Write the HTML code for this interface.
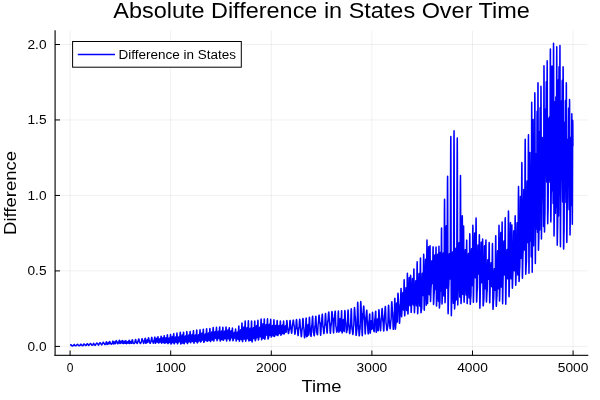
<!DOCTYPE html>
<html><head><meta charset="utf-8">
<style>
html,body{margin:0;padding:0;background:#fff;}
svg{display:block;will-change:transform;}
text{font-family:"Liberation Sans", sans-serif;fill:#000;}
</style></head>
<body>
<svg width="600" height="400" viewBox="0 0 600 400">
<rect x="0" y="0" width="600" height="400" fill="#fff"/>
<!-- grid -->
<g stroke="#000" stroke-opacity="0.06" stroke-width="1">
<line x1="70.1" y1="30.5" x2="70.1" y2="355.5"/>
<line x1="170.7" y1="30.5" x2="170.7" y2="355.5"/>
<line x1="271.3" y1="30.5" x2="271.3" y2="355.5"/>
<line x1="371.9" y1="30.5" x2="371.9" y2="355.5"/>
<line x1="472.5" y1="30.5" x2="472.5" y2="355.5"/>
<line x1="573.1" y1="30.5" x2="573.1" y2="355.5"/>
<line x1="55" y1="346.4" x2="588" y2="346.4"/>
<line x1="55" y1="270.9" x2="588" y2="270.9"/>
<line x1="55" y1="195.45" x2="588" y2="195.45"/>
<line x1="55" y1="119.95" x2="588" y2="119.95"/>
<line x1="55" y1="44.5" x2="588" y2="44.5"/>
</g>
<!-- data -->
<polyline fill="none" stroke="#0000ff" stroke-width="1.5" stroke-linejoin="round" points="70.08,345.26 70.18,345.23 70.28,345.21 70.38,345.15 70.48,345.07 70.58,344.96 70.68,344.86 70.78,344.78 70.88,344.72 70.99,344.70 71.09,344.74 71.19,344.86 71.29,345.03 71.39,345.23 71.49,345.42 71.59,345.59 71.69,345.70 71.79,345.74 71.89,345.75 71.99,345.78 72.09,345.82 72.19,345.87 72.29,345.92 72.39,345.97 72.49,346.00 72.59,346.01 72.69,345.99 72.80,345.92 72.90,345.83 73.00,345.71 73.10,345.60 73.20,345.50 73.30,345.43 73.40,345.40 73.50,345.37 73.60,345.28 73.70,345.14 73.80,344.96 73.90,344.79 74.00,344.64 74.10,344.54 74.20,344.50 74.30,344.53 74.40,344.65 74.51,344.83 74.61,345.04 74.71,345.25 74.81,345.44 74.91,345.57 75.01,345.62 75.11,345.63 75.21,345.66 75.31,345.69 75.41,345.74 75.51,345.79 75.61,345.83 75.71,345.86 75.81,345.87 75.91,345.85 76.01,345.77 76.11,345.65 76.21,345.51 76.32,345.36 76.42,345.23 76.52,345.13 76.62,345.09 76.72,345.07 76.82,345.00 76.92,344.88 77.02,344.73 77.12,344.58 77.22,344.44 77.32,344.35 77.42,344.30 77.52,344.32 77.62,344.40 77.72,344.53 77.82,344.69 77.92,344.85 78.03,344.99 78.13,345.10 78.23,345.14 78.33,345.16 78.43,345.22 78.53,345.32 78.63,345.44 78.73,345.57 78.83,345.68 78.93,345.76 79.03,345.80 79.13,345.80 79.23,345.77 79.33,345.73 79.43,345.67 79.53,345.61 79.63,345.56 79.73,345.53 79.84,345.51 79.94,345.48 80.04,345.36 80.14,345.16 80.24,344.91 80.34,344.64 80.44,344.41 80.54,344.23 80.64,344.15 80.74,344.15 80.84,344.20 80.94,344.29 81.04,344.40 81.14,344.51 81.24,344.61 81.34,344.69 81.44,344.73 81.54,344.74 81.65,344.82 81.75,344.96 81.85,345.14 81.95,345.33 82.05,345.49 82.15,345.62 82.25,345.68 82.35,345.69 82.45,345.67 82.55,345.64 82.65,345.60 82.75,345.55 82.85,345.51 82.95,345.48 83.05,345.47 83.15,345.45 83.25,345.32 83.36,345.11 83.46,344.83 83.56,344.53 83.66,344.26 83.76,344.05 83.86,343.94 83.96,343.94 84.06,343.98 84.16,344.05 84.26,344.14 84.36,344.25 84.46,344.34 84.56,344.41 84.66,344.45 84.76,344.47 84.86,344.55 84.96,344.70 85.06,344.90 85.17,345.11 85.27,345.30 85.37,345.45 85.47,345.54 85.57,345.54 85.67,345.52 85.77,345.47 85.87,345.41 85.97,345.35 86.07,345.29 86.17,345.24 86.27,345.21 86.37,345.20 86.47,345.09 86.57,344.90 86.67,344.64 86.77,344.35 86.88,344.09 86.98,343.88 87.08,343.76 87.18,343.75 87.28,343.79 87.38,343.87 87.48,343.98 87.58,344.09 87.68,344.20 87.78,344.29 87.88,344.34 87.98,344.35 88.08,344.43 88.18,344.58 88.28,344.78 88.38,345.00 88.48,345.21 88.58,345.37 88.69,345.47 88.79,345.48 88.89,345.41 88.99,345.27 89.09,345.09 89.19,344.88 89.29,344.69 89.39,344.53 89.49,344.44 89.59,344.42 89.69,344.36 89.79,344.25 89.89,344.09 89.99,343.92 90.09,343.75 90.19,343.62 90.29,343.54 90.40,343.53 90.50,343.57 90.60,343.66 90.70,343.78 90.80,343.91 90.90,344.04 91.00,344.14 91.10,344.21 91.20,344.22 91.30,344.29 91.40,344.42 91.50,344.61 91.60,344.82 91.70,345.03 91.80,345.19 91.90,345.29 92.00,345.31 92.10,345.29 92.21,345.23 92.31,345.15 92.41,345.06 92.51,344.97 92.61,344.90 92.71,344.86 92.81,344.85 92.91,344.77 93.01,344.58 93.11,344.32 93.21,344.03 93.31,343.75 93.41,343.52 93.51,343.38 93.61,343.34 93.71,343.42 93.81,343.61 93.92,343.87 94.02,344.17 94.12,344.46 94.22,344.70 94.32,344.85 94.42,344.89 94.52,344.91 94.62,344.96 94.72,345.02 94.82,345.10 94.92,345.18 95.02,345.24 95.12,345.28 95.22,345.29 95.32,345.23 95.42,345.07 95.52,344.85 95.62,344.59 95.73,344.34 95.83,344.13 95.93,343.99 96.03,343.95 96.13,343.91 96.23,343.81 96.33,343.67 96.43,343.50 96.53,343.33 96.63,343.19 96.73,343.10 96.83,343.07 96.93,343.10 97.03,343.17 97.13,343.26 97.23,343.38 97.33,343.49 97.44,343.59 97.54,343.65 97.64,343.67 97.74,343.73 97.84,343.89 97.94,344.13 98.04,344.41 98.14,344.69 98.24,344.92 98.34,345.08 98.44,345.13 98.54,345.09 98.64,344.96 98.74,344.78 98.84,344.56 98.94,344.35 99.04,344.16 99.14,344.04 99.25,344.00 99.35,343.95 99.45,343.80 99.55,343.59 99.65,343.33 99.75,343.08 99.85,342.86 99.95,342.71 100.05,342.65 100.15,342.68 100.25,342.78 100.35,342.93 100.45,343.11 100.55,343.29 100.65,343.44 100.75,343.55 100.85,343.59 100.95,343.63 101.06,343.76 101.16,343.97 101.26,344.22 101.36,344.47 101.46,344.69 101.56,344.84 101.66,344.90 101.76,344.86 101.86,344.74 101.96,344.56 102.06,344.33 102.16,344.11 102.26,343.91 102.36,343.77 102.46,343.71 102.56,343.67 102.66,343.52 102.77,343.28 102.87,343.00 102.97,342.71 103.07,342.45 103.17,342.27 103.27,342.20 103.37,342.23 103.47,342.35 103.57,342.54 103.67,342.77 103.77,343.01 103.87,343.22 103.97,343.37 104.07,343.44 104.17,343.47 104.27,343.58 104.37,343.76 104.47,343.97 104.58,344.20 104.68,344.40 104.78,344.54 104.88,344.60 104.98,344.58 105.08,344.49 105.18,344.33 105.28,344.14 105.38,343.94 105.48,343.76 105.58,343.63 105.68,343.58 105.78,343.54 105.88,343.37 105.98,343.11 106.08,342.78 106.18,342.43 106.29,342.12 106.39,341.90 106.49,341.79 106.59,341.93 106.69,342.53 106.79,343.38 106.89,344.12 106.99,344.45 107.09,344.43 107.19,344.36 107.29,344.26 107.39,344.14 107.49,344.04 107.59,343.97 107.69,343.94 107.79,343.86 107.89,343.65 107.99,343.36 108.10,343.05 108.20,342.78 108.30,342.61 108.40,342.57 108.50,342.68 108.60,342.92 108.70,343.24 108.80,343.57 108.90,343.84 109.00,344.00 109.10,344.00 109.20,343.76 109.30,343.31 109.40,342.73 109.50,342.16 109.60,341.71 109.70,341.47 109.81,341.47 109.91,341.63 110.01,341.90 110.11,342.25 110.21,342.62 110.31,342.95 110.41,343.21 110.51,343.34 110.61,343.37 110.71,343.44 110.81,343.56 110.91,343.72 111.01,343.90 111.11,344.06 111.21,344.18 111.31,344.24 111.41,344.24 111.51,344.18 111.62,344.06 111.72,343.91 111.82,343.74 111.92,343.59 112.02,343.48 112.12,343.41 112.22,343.38 112.32,343.21 112.42,342.88 112.52,342.45 112.62,341.99 112.72,341.56 112.82,341.23 112.92,341.05 113.02,341.10 113.12,341.66 113.22,342.58 113.33,343.46 113.43,343.96 113.53,343.99 113.63,343.97 113.73,343.92 113.83,343.86 113.93,343.81 114.03,343.77 114.13,343.76 114.23,343.68 114.33,343.42 114.43,343.01 114.53,342.55 114.63,342.12 114.73,341.83 114.83,341.73 114.93,341.83 115.03,342.11 115.14,342.51 115.24,342.95 115.34,343.34 115.44,343.59 115.54,343.65 115.64,343.44 115.74,342.96 115.84,342.30 115.94,341.61 116.04,341.04 116.14,340.69 116.24,340.63 116.34,340.69 116.44,340.82 116.54,341.00 116.64,341.20 116.74,341.38 116.85,341.53 116.95,341.62 117.05,341.64 117.15,341.78 117.25,342.05 117.35,342.43 117.45,342.85 117.55,343.25 117.65,343.57 117.75,343.76 117.85,343.80 117.95,343.71 118.05,343.51 118.15,343.24 118.25,342.94 118.35,342.65 118.45,342.42 118.55,342.28 118.66,342.24 118.76,342.12 118.86,341.86 118.96,341.49 119.06,341.08 119.16,340.69 119.26,340.37 119.36,340.17 119.46,340.15 119.56,340.65 119.66,341.65 119.76,342.73 119.86,343.44 119.96,343.56 120.06,343.51 120.16,343.43 120.26,343.32 120.37,343.21 120.47,343.13 120.57,343.08 120.67,343.04 120.77,342.83 120.87,342.47 120.97,342.03 121.07,341.61 121.17,341.29 121.27,341.14 121.37,341.19 121.47,341.42 121.57,341.78 121.67,342.20 121.77,342.59 121.87,342.86 121.97,342.97 122.07,342.86 122.18,342.51 122.28,342.01 122.38,341.45 122.48,340.96 122.58,340.62 122.68,340.53 122.78,340.91 122.88,341.77 122.98,342.76 123.08,343.46 123.18,343.61 123.28,343.58 123.38,343.52 123.48,343.43 123.58,343.34 123.68,343.27 123.78,343.23 123.88,343.20 123.99,343.00 124.09,342.63 124.19,342.17 124.29,341.72 124.39,341.37 124.49,341.20 124.59,341.23 124.69,341.47 124.79,341.87 124.89,342.35 124.99,342.80 125.09,343.13 125.19,343.28 125.29,343.19 125.39,342.85 125.49,342.32 125.59,341.72 125.70,341.16 125.80,340.78 125.90,340.64 126.00,340.95 126.10,341.75 126.20,342.72 126.30,343.46 126.40,343.67 126.50,343.64 126.60,343.58 126.70,343.48 126.80,343.39 126.90,343.31 127.00,343.26 127.10,343.24 127.20,343.09 127.30,342.81 127.40,342.45 127.51,342.09 127.61,341.80 127.71,341.64 127.81,341.64 127.91,341.80 128.01,342.07 128.11,342.41 128.21,342.75 128.31,343.00 128.41,343.12 128.51,343.06 128.61,342.72 128.71,342.16 128.81,341.51 128.91,340.91 129.01,340.46 129.11,340.28 129.22,340.54 129.32,341.37 129.42,342.43 129.52,343.29 129.62,343.59 129.72,343.56 129.82,343.47 129.92,343.35 130.02,343.22 130.12,343.11 130.22,343.04 130.32,343.01 130.42,342.88 130.52,342.58 130.62,342.18 130.72,341.76 130.82,341.42 130.92,341.22 131.03,341.20 131.13,341.41 131.23,341.79 131.33,342.27 131.43,342.75 131.53,343.13 131.63,343.34 131.73,343.29 131.83,342.91 131.93,342.24 132.03,341.44 132.13,340.67 132.23,340.09 132.33,339.82 132.43,339.87 132.53,340.16 132.63,340.64 132.74,341.22 132.84,341.83 132.94,342.37 133.04,342.76 133.14,342.94 133.24,342.96 133.34,343.02 133.44,343.12 133.54,343.23 133.64,343.36 133.74,343.47 133.84,343.55 133.94,343.59 134.04,343.58 134.14,343.51 134.24,343.40 134.34,343.26 134.44,343.11 134.55,342.98 134.65,342.88 134.75,342.84 134.85,342.78 134.95,342.49 135.05,342.00 135.15,341.38 135.25,340.73 135.35,340.14 135.45,339.70 135.55,339.49 135.65,339.51 135.75,339.74 135.85,340.14 135.95,340.64 136.05,341.17 136.15,341.65 136.26,342.01 136.36,342.19 136.46,342.22 136.56,342.33 136.66,342.53 136.76,342.77 136.86,343.03 136.96,343.27 137.06,343.45 137.16,343.54 137.26,343.52 137.36,343.31 137.46,342.95 137.56,342.48 137.66,341.98 137.76,341.52 137.86,341.17 137.96,340.99 138.07,340.95 138.17,340.79 138.27,340.52 138.37,340.17 138.47,339.79 138.57,339.44 138.67,339.17 138.77,339.03 138.87,339.04 138.97,339.28 139.07,339.71 139.17,340.27 139.27,340.88 139.37,341.44 139.47,341.87 139.57,342.10 139.67,342.14 139.78,342.24 139.88,342.43 139.98,342.68 140.08,342.95 140.18,343.20 140.28,343.39 140.38,343.50 140.48,343.50 140.58,343.42 140.68,343.26 140.78,343.05 140.88,342.83 140.98,342.62 141.08,342.45 141.18,342.36 141.28,342.32 141.38,342.07 141.48,341.58 141.59,340.93 141.69,340.21 141.79,339.54 141.89,339.02 141.99,338.72 142.09,338.68 142.19,338.82 142.29,339.09 142.39,339.45 142.49,339.84 142.59,340.21 142.69,340.51 142.79,340.68 142.89,340.72 142.99,340.90 143.09,341.25 143.19,341.73 143.29,342.26 143.40,342.76 143.50,343.16 143.60,343.39 143.70,343.42 143.80,343.23 143.90,342.84 144.00,342.32 144.10,341.73 144.20,341.17 144.30,340.73 144.40,340.46 144.50,340.40 144.60,340.26 144.70,339.98 144.80,339.59 144.90,339.16 145.00,338.75 145.11,338.42 145.21,338.22 145.31,338.22 145.41,339.02 145.51,340.53 145.61,342.13 145.71,343.17 145.81,343.32 145.91,343.26 146.01,343.15 146.11,343.02 146.21,342.89 146.31,342.79 146.41,342.74 146.51,342.67 146.61,342.34 146.71,341.79 146.81,341.13 146.92,340.50 147.02,340.03 147.12,339.83 147.22,339.91 147.32,340.24 147.42,340.76 147.52,341.35 147.62,341.89 147.72,342.27 147.82,342.41 147.92,342.18 148.02,341.52 148.12,340.56 148.22,339.52 148.32,338.59 148.42,337.99 148.52,337.82 148.63,337.94 148.73,338.24 148.83,338.66 148.93,339.14 149.03,339.62 149.13,340.01 149.23,340.26 149.33,340.33 149.43,340.48 149.53,340.82 149.63,341.32 149.73,341.89 149.83,342.46 149.93,342.93 150.03,343.23 150.13,343.32 150.23,343.26 150.33,343.10 150.44,342.87 150.54,342.60 150.64,342.33 150.74,342.11 150.84,341.96 150.94,341.92 151.04,341.72 151.14,341.21 151.24,340.46 151.34,339.59 151.44,338.72 151.54,337.99 151.64,337.51 151.74,337.35 151.84,337.51 151.94,337.91 152.04,338.51 152.15,339.20 152.25,339.88 152.35,340.43 152.45,340.77 152.55,340.85 152.65,340.99 152.75,341.30 152.85,341.73 152.95,342.20 153.05,342.64 153.15,342.99 153.25,343.18 153.35,343.18 153.45,342.93 153.55,342.47 153.65,341.87 153.75,341.22 153.85,340.63 153.96,340.20 154.06,339.99 154.16,339.93 154.26,339.67 154.36,339.23 154.46,338.69 154.56,338.12 154.66,337.63 154.76,337.29 154.86,337.16 154.96,337.70 155.06,339.35 155.16,341.37 155.26,342.90 155.36,343.30 155.46,343.23 155.56,343.07 155.67,342.87 155.77,342.66 155.87,342.50 155.97,342.41 156.07,342.32 156.17,341.84 156.27,341.03 156.37,340.07 156.47,339.19 156.57,338.56 156.67,338.33 156.77,338.53 156.87,339.10 156.97,339.89 157.07,340.75 157.17,341.48 157.27,341.91 157.37,341.95 157.48,341.44 157.58,340.46 157.68,339.24 157.78,338.04 157.88,337.12 157.98,336.70 158.08,337.09 158.18,338.66 158.28,340.74 158.38,342.43 158.48,342.99 158.58,342.97 158.68,342.93 158.78,342.87 158.88,342.80 158.98,342.74 159.08,342.71 159.19,342.66 159.29,342.25 159.39,341.51 159.49,340.61 159.59,339.74 159.69,339.10 159.79,338.83 159.89,338.96 159.99,339.41 160.09,340.09 160.19,340.85 160.29,341.51 160.39,341.93 160.49,342.02 160.59,341.54 160.69,340.51 160.79,339.18 160.89,337.82 161.00,336.75 161.10,336.19 161.20,336.46 161.30,338.07 161.40,340.40 161.50,342.42 161.60,343.25 161.70,343.20 161.80,343.02 161.90,342.77 162.00,342.50 162.10,342.27 162.20,342.13 162.30,342.08 162.40,341.68 162.50,340.91 162.60,339.92 162.70,338.94 162.81,338.18 162.91,337.82 163.01,337.94 163.11,338.58 163.21,339.58 163.31,340.73 163.41,341.77 163.51,342.48 163.61,342.69 163.71,342.21 163.81,341.05 163.91,339.46 164.01,337.80 164.11,336.43 164.21,335.66 164.31,335.76 164.41,337.34 164.52,339.82 164.62,342.12 164.72,343.25 164.82,343.26 164.92,343.18 165.02,343.07 165.12,342.95 165.22,342.84 165.32,342.76 165.42,342.73 165.52,342.35 165.62,341.51 165.72,340.39 165.82,339.24 165.92,338.32 166.02,337.83 166.12,337.88 166.22,338.42 166.33,339.34 166.43,340.43 166.53,341.45 166.63,342.18 166.73,342.45 166.83,342.05 166.93,340.89 167.03,339.22 167.13,337.42 167.23,335.89 167.33,334.95 167.43,334.90 167.53,336.48 167.63,339.25 167.73,341.99 167.83,343.52 167.93,343.59 168.04,343.49 168.14,343.32 168.24,343.13 168.34,342.95 168.44,342.83 168.54,342.79 168.64,342.48 168.74,341.71 168.84,340.64 168.94,339.51 169.04,338.57 169.14,338.03 169.24,338.00 169.34,338.46 169.44,339.31 169.54,340.36 169.64,341.38 169.74,342.14 169.85,342.47 169.95,342.16 170.05,341.05 170.15,339.36 170.25,337.47 170.35,335.80 170.45,334.73 170.55,334.50 170.65,335.89 170.75,338.66 170.85,341.67 170.95,343.68 171.05,344.01 171.15,343.86 171.25,343.56 171.35,343.19 171.45,342.82 171.56,342.52 171.66,342.37 171.76,342.24 171.86,341.59 171.96,340.48 172.06,339.14 172.16,337.86 172.26,336.90 172.36,336.46 172.46,336.65 172.56,337.46 172.66,338.71 172.76,340.15 172.86,341.48 172.96,342.41 173.06,342.76 173.16,342.30 173.26,340.99 173.37,339.08 173.47,336.98 173.57,335.14 173.67,333.92 173.77,333.62 173.87,335.00 173.97,337.91 174.07,341.16 174.17,343.42 174.27,343.86 174.37,343.68 174.47,343.33 174.57,342.88 174.67,342.43 174.77,342.06 174.87,341.86 174.97,341.76 175.08,341.25 175.18,340.33 175.28,339.22 175.38,338.13 175.48,337.29 175.58,336.89 175.68,337.01 175.78,337.67 175.88,338.73 175.98,339.97 176.08,341.13 176.18,341.97 176.28,342.31 176.38,341.93 176.48,340.66 176.58,338.76 176.68,336.62 176.78,334.71 176.89,333.40 176.99,332.98 177.09,334.20 177.19,337.07 177.29,340.47 177.39,343.04 177.49,343.81 177.59,343.72 177.69,343.50 177.79,343.21 177.89,342.89 177.99,342.62 178.09,342.44 178.19,342.38 178.29,342.00 178.39,341.15 178.49,339.99 178.60,338.76 178.70,337.71 178.80,337.04 178.90,336.90 179.00,337.25 179.10,338.02 179.20,339.06 179.30,340.14 179.40,341.06 179.50,341.63 179.60,341.73 179.70,340.99 179.80,339.46 179.90,337.43 180.00,335.31 180.10,333.53 180.20,332.45 180.30,332.34 180.41,334.19 180.51,337.59 180.61,341.20 180.71,343.60 180.81,344.01 180.91,343.94 181.01,343.79 181.11,343.60 181.21,343.41 181.31,343.25 181.41,343.16 181.51,343.06 181.61,342.30 181.71,340.88 181.81,339.08 181.91,337.27 182.01,335.81 182.11,334.99 182.22,334.98 182.32,335.77 182.42,337.21 182.52,339.02 182.62,340.82 182.72,342.26 182.82,343.05 182.92,342.99 183.02,341.89 183.12,339.92 183.22,337.48 183.32,335.07 183.42,333.16 183.52,332.14 183.62,332.41 183.72,334.73 183.82,338.30 183.93,341.73 184.03,343.64 184.13,343.74 184.23,343.48 184.33,343.05 184.43,342.53 184.53,342.03 184.63,341.65 184.73,341.47 184.83,341.32 184.93,340.68 185.03,339.65 185.13,338.41 185.23,337.23 185.33,336.34 185.43,335.91 185.53,336.06 185.63,336.79 185.74,337.97 185.84,339.35 185.94,340.66 186.04,341.64 186.14,342.09 186.24,341.80 186.34,340.53 186.44,338.52 186.54,336.18 186.64,333.97 186.74,332.35 186.84,331.62 186.94,332.38 187.04,335.15 187.14,338.88 187.24,342.08 187.34,343.50 187.45,343.46 187.55,343.31 187.65,343.07 187.75,342.81 187.85,342.57 187.95,342.39 188.05,342.33 188.15,342.01 188.25,341.03 188.35,339.58 188.45,337.95 188.55,336.47 188.65,335.43 188.75,335.05 188.85,335.36 188.95,336.27 189.05,337.58 189.15,339.05 189.26,340.38 189.36,341.29 189.46,341.61 189.56,341.09 189.66,339.66 189.76,337.61 189.86,335.34 189.96,333.32 190.06,331.94 190.16,331.49 190.26,332.70 190.36,335.65 190.46,339.17 190.56,341.86 190.66,342.69 190.76,342.57 190.86,342.30 190.97,341.92 191.07,341.52 191.17,341.17 191.27,340.94 191.37,340.87 191.47,340.45 191.57,339.48 191.67,338.16 191.77,336.76 191.87,335.56 191.97,334.79 192.07,334.61 192.17,335.11 192.27,336.20 192.37,337.67 192.47,339.23 192.57,340.55 192.67,341.39 192.78,341.54 192.88,340.72 192.98,338.97 193.08,336.64 193.18,334.20 193.28,332.14 193.38,330.87 193.48,330.71 193.58,332.64 193.68,336.24 193.78,340.10 193.88,342.68 193.98,343.15 194.08,342.97 194.18,342.61 194.28,342.16 194.38,341.69 194.49,341.31 194.59,341.09 194.69,341.00 194.79,340.44 194.89,339.38 194.99,338.04 195.09,336.68 195.19,335.58 195.29,334.96 195.39,334.94 195.49,335.56 195.59,336.72 195.69,338.16 195.79,339.62 195.89,340.79 195.99,341.43 196.09,341.37 196.19,340.24 196.30,338.21 196.40,335.69 196.50,333.17 196.60,331.18 196.70,330.09 196.80,330.35 196.90,332.88 197.00,336.81 197.10,340.61 197.20,342.77 197.30,342.93 197.40,342.81 197.50,342.60 197.60,342.35 197.70,342.10 197.80,341.92 197.90,341.82 198.01,341.66 198.11,340.86 198.21,339.55 198.31,337.99 198.41,336.48 198.51,335.34 198.61,334.79 198.71,334.91 198.81,335.60 198.91,336.72 199.01,338.05 199.11,339.31 199.21,340.26 199.31,340.70 199.41,340.42 199.51,339.11 199.61,337.03 199.71,334.59 199.82,332.28 199.92,330.57 200.02,329.79 200.12,330.53 200.22,333.35 200.32,337.18 200.42,340.50 200.52,342.01 200.62,342.00 200.72,341.90 200.82,341.75 200.92,341.59 201.02,341.43 201.12,341.32 201.22,341.28 201.32,340.94 201.42,339.84 201.52,338.21 201.63,336.38 201.73,334.70 201.83,333.52 201.93,333.07 202.03,333.38 202.13,334.32 202.23,335.70 202.33,337.25 202.43,338.65 202.53,339.62 202.63,339.97 202.73,339.44 202.83,337.93 202.93,335.75 203.03,333.33 203.13,331.16 203.23,329.67 203.34,329.16 203.44,330.54 203.54,333.99 203.64,338.13 203.74,341.33 203.84,342.35 203.94,342.27 204.04,342.08 204.14,341.81 204.24,341.51 204.34,341.26 204.44,341.09 204.54,341.04 204.64,340.57 204.74,339.49 204.84,338.00 204.94,336.41 205.04,335.03 205.15,334.15 205.25,333.93 205.35,334.37 205.45,335.35 205.55,336.68 205.65,338.09 205.75,339.30 205.85,340.06 205.95,340.22 206.05,339.37 206.15,337.53 206.25,335.08 206.35,332.49 206.45,330.30 206.55,328.94 206.65,328.73 206.75,330.63 206.86,334.24 206.96,338.14 207.06,340.79 207.16,341.31 207.26,341.28 207.36,341.23 207.46,341.16 207.56,341.09 207.66,341.03 207.76,341.00 207.86,340.93 207.96,340.21 208.06,338.82 208.16,337.06 208.26,335.27 208.36,333.81 208.46,332.97 208.56,332.92 208.67,333.61 208.77,334.91 208.87,336.54 208.97,338.19 209.07,339.53 209.17,340.27 209.27,340.23 209.37,339.08 209.47,336.98 209.57,334.35 209.67,331.72 209.77,329.62 209.87,328.47 209.97,328.70 210.07,331.22 210.17,335.22 210.27,339.11 210.38,341.36 210.48,341.54 210.58,341.38 210.68,341.11 210.78,340.79 210.88,340.48 210.98,340.24 211.08,340.12 211.18,339.93 211.28,339.02 211.38,337.50 211.48,335.68 211.58,333.93 211.68,332.58 211.78,331.92 211.88,332.08 211.98,333.01 212.08,334.53 212.19,336.34 212.29,338.08 212.39,339.39 212.49,340.01 212.59,339.71 212.69,338.22 212.79,335.84 212.89,333.03 212.99,330.37 213.09,328.38 213.19,327.46 213.29,328.23 213.39,331.32 213.49,335.55 213.59,339.26 213.69,340.97 213.79,340.90 213.90,340.57 214.00,340.06 214.10,339.48 214.20,338.94 214.30,338.55 214.40,338.39 214.50,338.11 214.60,337.20 214.70,335.83 214.80,334.27 214.90,332.85 215.00,331.84 215.10,331.45 215.20,331.75 215.30,332.68 215.40,334.06 215.50,335.61 215.60,337.02 215.71,338.01 215.81,338.37 215.91,337.85 216.01,336.31 216.11,334.08 216.21,331.59 216.31,329.35 216.41,327.80 216.51,327.25 216.61,328.71 216.71,332.39 216.81,336.76 216.91,339.96 217.01,340.75 217.11,340.54 217.21,340.09 217.31,339.51 217.42,338.91 217.52,338.42 217.62,338.15 217.72,338.02 217.82,337.29 217.92,336.01 218.02,334.44 218.12,332.93 218.22,331.79 218.32,331.28 218.42,331.51 218.52,332.48 218.62,333.98 218.72,335.69 218.82,337.24 218.92,338.31 219.02,338.66 219.12,337.96 219.23,336.13 219.33,333.58 219.43,330.83 219.53,328.49 219.63,327.06 219.73,326.92 219.83,329.31 219.93,333.64 220.03,338.08 220.13,340.76 220.23,341.01 220.33,340.80 220.43,340.43 220.53,339.98 220.63,339.56 220.73,339.24 220.83,339.10 220.94,338.80 221.04,337.72 221.14,336.08 221.24,334.23 221.34,332.56 221.44,331.43 221.54,331.09 221.64,331.65 221.74,333.02 221.84,334.92 221.94,336.94 222.04,338.64 222.14,339.66 222.24,339.76 222.34,338.61 222.44,336.38 222.54,333.54 222.64,330.70 222.75,328.47 222.85,327.32 222.95,327.78 223.05,330.66 223.15,334.84 223.25,338.56 223.35,340.25 223.45,340.21 223.55,340.02 223.65,339.72 223.75,339.39 223.85,339.10 223.95,338.91 224.05,338.84 224.15,338.31 224.25,337.07 224.35,335.38 224.45,333.60 224.56,332.12 224.66,331.24 224.76,331.16 224.86,331.88 224.96,333.24 225.06,334.95 225.16,336.65 225.26,337.96 225.36,338.62 225.46,338.38 225.56,336.97 225.66,334.67 225.76,331.98 225.86,329.47 225.96,327.67 226.06,326.98 226.16,328.29 226.27,332.01 226.37,336.57 226.47,340.05 226.57,341.04 226.67,340.84 226.77,340.40 226.87,339.80 226.97,339.18 227.07,338.67 227.17,338.38 227.27,338.24 227.37,337.41 227.47,335.90 227.57,334.02 227.67,332.17 227.77,330.75 227.87,330.07 227.97,330.28 228.08,331.38 228.18,333.13 228.28,335.16 228.38,337.04 228.48,338.36 228.58,338.85 228.68,338.26 228.78,336.60 228.88,334.21 228.98,331.60 229.08,329.34 229.18,327.91 229.28,327.66 229.38,329.70 229.48,333.64 229.58,337.81 229.68,340.45 229.79,340.79 229.89,340.64 229.99,340.37 230.09,340.03 230.19,339.71 230.29,339.46 230.39,339.35 230.49,339.07 230.59,337.95 230.69,336.20 230.79,334.20 230.89,332.36 230.99,331.08 231.09,330.65 231.19,331.06 231.29,332.15 231.39,333.69 231.49,335.36 231.60,336.79 231.70,337.68 231.80,337.83 231.90,336.99 232.00,335.27 232.10,333.04 232.20,330.77 232.30,328.95 232.40,327.97 232.50,328.31 232.60,331.00 232.70,335.09 232.80,338.84 232.90,340.69 233.00,340.67 233.10,340.43 233.20,340.04 233.31,339.61 233.41,339.21 233.51,338.95 233.61,338.86 233.71,338.46 233.81,337.45 233.91,336.04 234.01,334.53 234.11,333.26 234.21,332.48 234.31,332.36 234.41,332.86 234.51,333.85 234.61,335.12 234.71,336.39 234.81,337.40 234.91,337.93 235.01,337.80 235.12,336.79 235.22,335.07 235.32,333.03 235.42,331.09 235.52,329.67 235.62,329.07 235.72,330.03 235.82,333.07 235.92,336.93 236.02,339.99 236.12,340.97 236.22,340.82 236.32,340.44 236.42,339.92 236.52,339.38 236.62,338.92 236.72,338.65 236.83,338.55 236.93,337.94 237.03,336.76 237.13,335.27 237.23,333.78 237.33,332.62 237.43,332.03 237.53,332.15 237.63,333.01 237.73,334.42 237.83,336.08 237.93,337.64 238.03,338.77 238.13,339.22 238.23,338.63 238.33,336.76 238.43,334.01 238.53,330.96 238.64,328.27 238.74,326.51 238.84,326.09 238.94,328.23 239.04,332.65 239.14,337.49 239.24,340.70 239.34,341.21 239.44,340.99 239.54,340.57 239.64,340.05 239.74,339.54 239.84,339.14 239.94,338.95 240.04,338.70 240.14,337.59 240.24,335.79 240.35,333.70 240.45,331.75 240.55,330.37 240.65,329.85 240.75,330.32 240.85,331.72 240.95,333.75 241.05,335.98 241.15,337.92 241.25,339.17 241.35,339.44 241.45,338.15 241.55,335.36 241.65,331.67 241.75,327.85 241.85,324.74 241.95,322.98 242.05,323.24 242.16,326.98 242.26,332.92 242.36,338.57 242.46,341.53 242.56,341.59 242.66,341.22 242.76,340.62 242.86,339.94 242.96,339.31 243.06,338.87 243.16,338.71 243.26,338.09 243.36,336.35 243.46,333.88 243.56,331.20 243.66,328.88 243.76,327.42 243.86,327.13 243.97,328.12 244.07,330.18 244.17,332.88 244.27,335.64 244.37,337.88 244.47,339.10 244.57,338.96 244.67,337.01 244.77,333.60 244.87,329.45 244.97,325.46 245.07,322.47 245.17,321.12 245.27,322.46 245.37,327.41 245.47,333.93 245.57,339.29 245.68,341.22 245.78,341.05 245.88,340.61 245.98,340.00 246.08,339.33 246.18,338.77 246.28,338.42 246.38,338.29 246.48,337.38 246.58,335.53 246.68,333.15 246.78,330.74 246.88,328.82 246.98,327.79 247.08,327.89 247.18,329.11 247.28,331.20 247.38,333.71 247.49,336.10 247.59,337.87 247.69,338.64 247.79,337.97 247.89,335.55 247.99,331.88 248.09,327.75 248.19,324.04 248.29,321.55 248.39,320.82 248.49,323.38 248.59,329.11 248.69,335.58 248.79,340.08 248.89,340.97 248.99,340.92 249.09,340.82 249.20,340.70 249.30,340.57 249.40,340.47 249.50,340.42 249.60,340.16 249.70,338.76 249.80,336.41 249.90,333.62 250.00,330.99 250.10,329.07 250.20,328.28 250.30,328.78 250.40,330.46 250.50,332.96 250.60,335.74 250.70,338.22 250.80,339.86 250.90,340.30 251.01,338.94 251.11,335.79 251.21,331.52 251.31,327.04 251.41,323.31 251.51,321.12 251.61,321.17 251.71,325.11 251.81,331.70 251.91,338.16 252.01,341.79 252.11,341.96 252.21,341.55 252.31,340.86 252.41,340.05 252.51,339.30 252.61,338.76 252.72,338.55 252.82,338.05 252.92,336.51 253.02,334.26 253.12,331.78 253.22,329.59 253.32,328.17 253.42,327.82 253.52,328.62 253.62,330.40 253.72,332.79 253.82,335.26 253.92,337.30 254.02,338.47 254.12,338.43 254.22,336.66 254.32,333.43 254.42,329.42 254.53,325.49 254.63,322.48 254.73,321.04 254.83,322.09 254.93,326.75 255.03,333.14 255.13,338.58 255.23,340.77 255.33,340.69 255.43,340.44 255.53,340.08 255.63,339.69 255.73,339.36 255.83,339.14 255.93,339.05 256.03,337.98 256.13,335.69 256.24,332.68 256.34,329.57 256.44,327.05 256.54,325.63 256.64,325.62 256.74,326.89 256.84,329.15 256.94,331.92 257.04,334.61 257.14,336.64 257.24,337.57 257.34,337.05 257.44,334.81 257.54,331.30 257.64,327.28 257.74,323.61 257.84,321.07 257.94,320.21 258.05,322.45 258.15,327.92 258.25,334.33 258.35,338.98 258.45,340.06 258.55,339.80 258.65,339.26 258.75,338.56 258.85,337.85 258.95,337.27 259.05,336.96 259.15,336.76 259.25,335.71 259.35,333.88 259.45,331.66 259.55,329.53 259.65,327.94 259.76,327.23 259.86,327.56 259.96,328.84 260.06,330.80 260.16,333.03 260.26,335.04 260.36,336.42 260.46,336.85 260.56,335.73 260.66,332.92 260.76,329.01 260.86,324.85 260.96,321.32 261.06,319.17 261.16,319.02 261.26,322.65 261.36,329.06 261.46,335.57 261.57,339.43 261.67,339.78 261.77,339.56 261.87,339.19 261.97,338.75 262.07,338.32 262.17,338.01 262.27,337.88 262.37,337.32 262.47,335.40 262.57,332.50 262.67,329.24 262.77,326.33 262.87,324.38 262.97,323.81 263.07,324.77 263.17,327.09 263.27,330.26 263.38,333.61 263.48,336.42 263.58,338.09 263.68,338.22 263.78,336.40 263.88,332.90 263.98,328.49 264.08,324.09 264.18,320.66 264.28,318.91 264.38,319.73 264.48,324.31 264.58,330.88 264.68,336.66 264.78,339.22 264.88,339.09 264.98,338.59 265.09,337.85 265.19,337.03 265.29,336.30 265.39,335.82 265.49,335.68 265.59,334.89 265.69,333.08 265.79,330.64 265.89,328.09 265.99,325.97 266.09,324.74 266.19,324.65 266.29,325.67 266.39,327.56 266.49,329.93 266.59,332.26 266.69,334.06 266.79,334.94 266.90,334.57 267.00,332.60 267.10,329.41 267.20,325.70 267.30,322.25 267.40,319.80 267.50,318.87 267.60,320.80 267.70,326.09 267.80,332.56 267.90,337.54 268.00,339.04 268.10,338.92 268.20,338.66 268.30,338.30 268.40,337.92 268.50,337.60 268.61,337.41 268.71,337.28 268.81,336.13 268.91,333.85 269.01,330.91 269.11,327.94 269.21,325.56 269.31,324.25 269.41,324.27 269.51,325.45 269.61,327.50 269.71,330.01 269.81,332.45 269.91,334.30 270.01,335.19 270.11,334.78 270.21,332.82 270.31,329.69 270.42,326.05 270.52,322.66 270.62,320.22 270.72,319.25 270.82,320.81 270.92,325.39 271.02,331.12 271.12,335.63 271.22,337.09 271.32,336.94 271.42,336.59 271.52,336.09 271.62,335.57 271.72,335.12 271.82,334.84 271.92,334.74 272.02,333.95 272.13,332.35 272.23,330.27 272.33,328.14 272.43,326.42 272.53,325.45 272.63,325.46 272.73,326.55 272.83,328.51 272.93,330.93 273.03,333.30 273.13,335.13 273.23,336.04 273.33,335.69 273.43,333.76 273.53,330.61 273.63,326.90 273.73,323.41 273.83,320.87 273.94,319.81 274.04,321.12 274.14,325.31 274.24,330.66 274.34,334.97 274.44,336.46 274.54,336.36 274.64,336.09 274.74,335.72 274.84,335.33 274.94,334.98 275.04,334.77 275.14,334.68 275.24,333.94 275.34,332.36 275.44,330.29 275.54,328.14 275.65,326.38 275.75,325.37 275.85,325.33 275.95,326.28 276.05,328.05 276.15,330.26 276.25,332.45 276.35,334.16 276.45,335.03 276.55,334.79 276.65,333.12 276.75,330.34 276.85,327.05 276.95,323.91 277.05,321.60 277.15,320.59 277.25,321.64 277.35,325.32 277.46,330.12 277.56,334.07 277.66,335.55 277.76,335.49 277.86,335.33 277.96,335.10 278.06,334.85 278.16,334.64 278.26,334.50 278.36,334.44 278.46,333.77 278.56,332.29 278.66,330.32 278.76,328.26 278.86,326.55 278.96,325.54 279.06,325.45 279.17,326.21 279.27,327.67 279.37,329.52 279.47,331.36 279.57,332.82 279.67,333.58 279.77,333.42 279.87,332.02 279.97,329.63 280.07,326.77 280.17,324.02 280.27,321.96 280.37,321.02 280.47,321.91 280.57,325.32 280.67,329.87 280.77,333.70 280.87,335.22 280.98,335.13 281.08,334.87 281.18,334.49 281.28,334.08 281.38,333.71 281.48,333.48 281.58,333.40 281.68,332.82 281.78,331.49 281.88,329.70 281.98,327.81 282.08,326.22 282.18,325.27 282.28,325.15 282.38,325.92 282.48,327.41 282.58,329.33 282.68,331.26 282.79,332.80 282.89,333.64 282.99,333.53 283.09,332.17 283.19,329.80 283.29,326.91 283.39,324.12 283.49,322.00 283.59,321.00 283.69,321.71 283.79,324.75 283.89,328.92 283.99,332.49 284.09,334.00 284.19,333.93 284.29,333.68 284.39,333.31 284.50,332.91 284.60,332.55 284.70,332.31 284.80,332.24 284.90,331.81 285.00,330.80 285.10,329.40 285.20,327.92 285.30,326.66 285.40,325.89 285.50,325.76 285.60,326.31 285.70,327.43 285.80,328.88 285.90,330.35 286.00,331.55 286.10,332.21 286.20,332.13 286.31,330.93 286.41,328.78 286.51,326.14 286.61,323.56 286.71,321.57 286.81,320.60 286.91,320.68 287.01,321.34 287.11,322.44 287.21,323.82 287.31,325.26 287.41,326.55 287.51,327.50 287.61,327.95 287.71,328.08 287.81,328.56 287.91,329.38 288.02,330.40 288.12,331.47 288.22,332.43 288.32,333.14 288.42,333.48 288.52,333.44 288.62,333.15 288.72,332.65 288.82,332.03 288.92,331.37 289.02,330.78 289.12,330.35 289.22,330.14 289.32,329.96 289.42,329.12 289.52,327.69 289.62,325.89 289.72,323.99 289.83,322.28 289.93,321.02 290.03,320.40 290.13,320.49 290.23,321.18 290.33,322.37 290.43,323.87 290.53,325.46 290.63,326.89 290.73,327.95 290.83,328.48 290.93,328.59 291.03,328.98 291.13,329.66 291.23,330.51 291.33,331.42 291.43,332.23 291.54,332.84 291.64,333.14 291.74,333.04 291.84,332.36 291.94,331.19 292.04,329.69 292.14,328.11 292.24,326.68 292.34,325.61 292.44,325.08 292.54,324.96 292.64,324.55 292.74,323.83 292.84,322.92 292.94,321.96 293.04,321.08 293.14,320.43 293.24,320.10 293.35,320.15 293.45,320.61 293.55,321.42 293.65,322.44 293.75,323.53 293.85,324.53 293.95,325.27 294.05,325.64 294.15,325.80 294.25,326.50 294.35,327.72 294.45,329.29 294.55,330.96 294.65,332.48 294.75,333.61 294.85,334.20 294.95,334.18 295.06,333.71 295.16,332.89 295.26,331.83 295.36,330.71 295.46,329.68 295.56,328.91 295.66,328.51 295.76,328.35 295.86,327.63 295.96,326.35 296.06,324.71 296.16,322.95 296.26,321.34 296.36,320.13 296.46,319.50 296.56,319.55 296.66,320.31 296.76,321.67 296.87,323.42 296.97,325.30 297.07,327.02 297.17,328.31 297.27,328.99 297.37,329.14 297.47,329.65 297.57,330.55 297.67,331.72 297.77,332.98 297.87,334.13 297.97,335.01 298.07,335.47 298.17,335.43 298.27,334.79 298.37,333.65 298.47,332.17 298.58,330.57 298.68,329.11 298.78,328.00 298.88,327.41 298.98,327.26 299.08,326.63 299.18,325.51 299.28,324.04 299.38,322.47 299.48,321.02 299.58,319.92 299.68,319.33 299.78,319.36 299.88,320.10 299.98,321.46 300.08,323.22 300.18,325.12 300.28,326.87 300.39,328.21 300.49,328.93 300.59,329.10 300.69,329.68 300.79,330.75 300.89,332.15 300.99,333.67 301.09,335.06 301.19,336.13 301.29,336.71 301.39,336.71 301.49,336.14 301.59,335.09 301.69,333.72 301.79,332.23 301.89,330.86 301.99,329.80 302.09,329.23 302.20,329.06 302.30,328.26 302.40,326.78 302.50,324.84 302.60,322.74 302.70,320.79 302.80,319.30 302.90,318.48 303.00,318.45 303.10,319.12 303.20,320.38 303.30,322.03 303.40,323.83 303.50,325.50 303.60,326.79 303.70,327.49 303.80,327.68 303.91,328.42 304.01,329.80 304.11,331.63 304.21,333.62 304.31,335.46 304.41,336.89 304.51,337.68 304.61,337.77 304.71,337.47 304.81,336.90 304.91,336.14 305.01,335.32 305.11,334.56 305.21,333.96 305.31,333.63 305.41,333.46 305.51,332.35 305.61,330.22 305.72,327.41 305.82,324.33 305.92,321.46 306.02,319.24 306.12,317.99 306.22,318.17 306.32,321.64 306.42,327.40 306.52,333.09 306.62,336.35 306.72,336.62 306.82,336.58 306.92,336.51 307.02,336.42 307.12,336.34 307.22,336.28 307.32,336.25 307.43,335.84 307.53,334.30 307.63,331.95 307.73,329.27 307.83,326.82 307.93,325.12 308.03,324.51 308.13,325.07 308.23,326.61 308.33,328.80 308.43,331.20 308.53,333.29 308.63,334.64 308.73,334.96 308.83,333.66 308.93,330.77 309.03,326.90 309.13,322.85 309.24,319.47 309.34,317.46 309.44,317.19 309.54,318.04 309.64,319.74 309.74,322.01 309.84,324.52 309.94,326.87 310.04,328.73 310.14,329.79 310.24,330.02 310.34,330.44 310.44,331.29 310.54,332.42 310.64,333.67 310.74,334.85 310.84,335.78 310.95,336.32 311.05,336.36 311.15,335.64 311.25,334.21 311.35,332.28 311.45,330.14 311.55,328.11 311.65,326.52 311.75,325.59 311.85,325.37 311.95,324.77 312.05,323.57 312.15,321.94 312.25,320.14 312.35,318.43 312.45,317.07 312.55,316.28 312.65,316.21 312.76,317.24 312.86,319.35 312.96,322.20 313.06,325.38 313.16,328.38 313.26,330.77 313.36,332.17 313.46,332.46 313.56,332.68 313.66,333.12 313.76,333.72 313.86,334.39 313.96,335.03 314.06,335.54 314.16,335.84 314.26,335.85 314.36,335.19 314.47,333.83 314.57,331.97 314.67,329.90 314.77,327.93 314.87,326.36 314.97,325.43 315.07,325.20 315.17,324.65 315.27,323.49 315.37,321.91 315.47,320.15 315.57,318.47 315.67,317.13 315.77,316.33 315.87,316.22 315.97,317.21 316.07,319.28 316.17,322.12 316.28,325.30 316.38,328.34 316.48,330.77 316.58,332.23 316.68,332.55 316.78,332.68 316.88,332.97 316.98,333.36 317.08,333.80 317.18,334.22 317.28,334.55 317.38,334.76 317.48,334.77 317.58,334.10 317.68,332.69 317.78,330.74 317.88,328.55 317.99,326.45 318.09,324.76 318.19,323.74 318.29,323.49 318.39,323.00 318.49,321.96 318.59,320.51 318.69,318.88 318.79,317.32 318.89,316.06 318.99,315.30 319.09,315.14 319.19,315.56 319.29,316.47 319.39,317.74 319.49,319.17 319.59,320.54 319.69,321.65 319.80,322.33 319.90,322.51 320.00,323.23 320.10,324.81 320.20,327.01 320.30,329.49 320.40,331.88 320.50,333.81 320.60,335.00 320.70,335.26 320.80,334.57 320.90,333.05 321.00,330.93 321.10,328.52 321.20,326.20 321.30,324.32 321.40,323.16 321.50,322.86 321.61,322.39 321.71,321.32 321.81,319.84 321.91,318.15 322.01,316.52 322.11,315.20 322.21,314.38 322.31,314.20 322.41,314.91 322.51,316.52 322.61,318.78 322.71,321.34 322.81,323.82 322.91,325.85 323.01,327.11 323.11,327.44 323.21,327.77 323.32,328.52 323.42,329.57 323.52,330.77 323.62,331.93 323.72,332.89 323.82,333.48 323.92,333.62 324.02,333.20 324.12,332.22 324.22,330.84 324.32,329.26 324.42,327.73 324.52,326.48 324.62,325.70 324.72,325.47 324.82,324.86 324.92,323.43 325.02,321.41 325.13,319.10 325.23,316.86 325.33,315.01 325.43,313.85 325.53,313.55 325.63,314.16 325.73,315.58 325.83,317.61 325.93,319.92 326.03,322.18 326.13,324.04 326.23,325.21 326.33,325.54 326.43,325.92 326.53,326.82 326.63,328.09 326.73,329.56 326.84,330.99 326.94,332.17 327.04,332.92 327.14,333.12 327.24,332.50 327.34,331.02 327.44,328.89 327.54,326.46 327.64,324.07 327.74,322.10 327.84,320.85 327.94,320.48 328.04,320.08 328.14,319.09 328.24,317.68 328.34,316.05 328.44,314.46 328.54,313.14 328.65,312.30 328.75,312.06 328.85,312.54 328.95,313.71 329.05,315.41 329.15,317.36 329.25,319.28 329.35,320.87 329.45,321.89 329.55,322.20 329.65,322.71 329.75,323.98 329.85,325.81 329.95,327.93 330.05,330.01 330.15,331.74 330.25,332.86 330.36,333.19 330.46,332.82 330.56,331.90 330.66,330.56 330.76,329.01 330.86,327.48 330.96,326.21 331.06,325.39 331.16,325.13 331.26,324.52 331.36,322.96 331.46,320.70 331.56,318.08 331.66,315.49 331.76,313.33 331.86,311.93 331.96,311.49 332.06,311.78 332.17,312.52 332.27,313.61 332.37,314.87 332.47,316.12 332.57,317.16 332.67,317.84 332.77,318.06 332.87,318.70 332.97,320.37 333.07,322.81 333.17,325.65 333.27,328.47 333.37,330.83 333.47,332.38 333.57,332.87 333.67,332.24 333.77,330.57 333.88,328.13 333.98,325.27 334.08,322.43 334.18,320.05 334.28,318.49 334.38,317.97 334.48,317.69 334.58,316.93 334.68,315.81 334.78,314.50 334.88,313.20 334.98,312.10 335.08,311.38 335.18,311.14 335.28,311.77 335.38,313.48 335.48,316.01 335.58,318.97 335.69,321.92 335.79,324.41 335.89,326.05 335.99,326.61 336.09,326.83 336.19,327.44 336.29,328.35 336.39,329.41 336.49,330.47 336.59,331.36 336.69,331.96 336.79,332.16 336.89,332.06 336.99,331.75 337.09,331.31 337.19,330.78 337.29,330.25 337.40,329.80 337.50,329.51 337.60,329.40 337.70,328.70 337.80,326.69 337.90,323.70 338.00,320.17 338.10,316.63 338.20,313.64 338.30,311.63 338.40,310.92 338.50,313.08 338.60,318.73 338.70,325.53 338.80,330.69 338.90,332.15 339.00,332.00 339.10,331.66 339.21,331.21 339.31,330.73 339.41,330.33 339.51,330.09 339.61,329.96 339.71,328.90 339.81,326.85 339.91,324.24 340.01,321.62 340.11,319.53 340.21,318.41 340.31,318.51 340.41,319.89 340.51,322.28 340.61,325.16 340.71,327.95 340.81,330.06 340.92,331.04 341.02,330.46 341.12,327.89 341.22,323.86 341.32,319.20 341.42,314.89 341.52,311.82 341.62,310.65 341.72,312.73 341.82,318.56 341.92,325.73 342.02,331.30 342.12,333.00 342.22,332.75 342.32,332.15 342.42,331.34 342.52,330.48 342.62,329.76 342.73,329.31 342.83,329.17 342.93,328.31 343.03,326.61 343.13,324.41 343.23,322.17 343.33,320.37 343.43,319.38 343.53,319.44 343.63,320.72 343.73,322.98 343.83,325.75 343.93,328.44 344.03,330.51 344.13,331.50 344.23,330.99 344.33,328.44 344.43,324.35 344.54,319.57 344.64,315.11 344.74,311.89 344.84,310.59 344.94,310.92 345.04,312.04 345.14,313.76 345.24,315.83 345.34,317.93 345.44,319.75 345.54,321.00 345.64,321.51 345.74,321.85 345.84,322.97 345.94,324.71 346.04,326.81 346.14,328.95 346.25,330.79 346.35,332.07 346.45,332.59 346.55,332.51 346.65,332.23 346.75,331.80 346.85,331.28 346.95,330.74 347.05,330.28 347.15,329.96 347.25,329.83 347.35,329.25 347.45,327.28 347.55,324.20 347.65,320.48 347.75,316.68 347.85,313.37 347.95,311.07 348.06,310.12 348.16,310.52 348.26,311.98 348.36,314.27 348.46,317.04 348.56,319.88 348.66,322.34 348.76,324.07 348.86,324.79 348.96,325.05 349.06,325.91 349.16,327.28 349.26,328.93 349.36,330.63 349.46,332.11 349.56,333.14 349.66,333.58 349.77,333.39 349.87,332.66 349.97,331.50 350.07,330.09 350.17,328.64 350.27,327.38 350.37,326.49 350.47,326.11 350.57,325.65 350.67,323.96 350.77,321.29 350.87,318.02 350.97,314.67 351.07,311.73 351.17,309.65 351.27,308.76 351.37,309.26 351.47,311.24 351.58,314.41 351.68,318.28 351.78,322.27 351.88,325.76 351.98,328.24 352.08,329.32 352.18,329.47 352.28,329.96 352.38,330.73 352.48,331.67 352.58,332.64 352.68,333.50 352.78,334.11 352.88,334.37 352.98,334.17 353.08,333.35 353.18,332.04 353.29,330.42 353.39,328.74 353.49,327.27 353.59,326.22 353.69,325.75 353.79,325.31 353.89,323.59 353.99,320.82 354.09,317.41 354.19,313.89 354.29,310.77 354.39,308.55 354.49,307.55 354.59,307.74 354.69,308.68 354.79,310.21 354.89,312.08 354.99,314.03 355.10,315.75 355.20,316.98 355.30,317.54 355.40,317.96 355.50,319.61 355.60,322.31 355.70,325.63 355.80,329.08 355.90,332.14 356.00,334.32 356.10,335.32 356.20,335.24 356.30,334.73 356.40,333.90 356.50,332.87 356.60,331.81 356.70,330.86 356.81,330.18 356.91,329.88 357.01,329.26 357.11,326.72 357.21,322.56 357.31,317.40 357.41,312.05 357.51,307.30 357.61,303.88 357.71,302.31 357.81,302.80 357.91,305.17 358.01,309.01 358.11,313.65 358.21,318.27 358.31,322.07 358.41,324.39 358.51,324.95 358.62,325.68 358.72,327.24 358.82,329.35 358.92,331.64 359.02,333.71 359.12,335.20 359.22,335.85 359.32,335.67 359.42,334.95 359.52,333.81 359.62,332.45 359.72,331.11 359.82,330.03 359.92,329.39 360.02,329.11 360.12,327.09 360.22,323.03 360.33,317.64 360.43,311.86 360.53,306.70 360.63,303.06 360.73,301.58 360.83,301.96 360.93,303.32 361.03,305.39 361.13,307.82 361.23,310.19 361.33,312.08 361.43,313.16 361.53,313.51 361.63,315.27 361.73,318.63 361.83,323.03 361.93,327.68 362.03,331.77 362.14,334.60 362.24,335.67 362.34,334.80 362.44,332.16 362.54,328.20 362.64,323.63 362.74,319.23 362.84,315.78 362.94,313.87 363.04,313.54 363.14,312.91 363.24,311.75 363.34,310.27 363.44,308.71 363.54,307.36 363.64,306.45 363.74,306.14 363.84,306.76 363.95,308.46 364.05,310.95 364.15,313.79 364.25,316.49 364.35,318.58 364.45,319.68 364.55,319.99 364.65,321.26 364.75,323.50 364.85,326.33 364.95,329.26 365.05,331.76 365.15,333.41 365.25,333.92 365.35,333.03 365.45,330.77 365.55,327.55 365.66,323.91 365.76,320.50 365.86,317.92 365.96,316.60 366.06,316.38 366.16,315.78 366.26,314.76 366.36,313.49 366.46,312.19 366.56,311.09 366.66,310.39 366.76,310.21 366.86,311.09 366.96,313.16 367.06,316.07 367.16,319.30 367.26,322.30 367.36,324.53 367.47,325.61 367.57,325.85 367.67,326.68 367.77,328.06 367.87,329.75 367.97,331.46 368.07,332.87 368.17,333.76 368.27,333.95 368.37,333.14 368.47,331.34 368.57,328.88 368.67,326.17 368.77,323.69 368.87,321.88 368.97,321.04 369.07,320.83 369.18,320.07 369.28,318.85 369.38,317.37 369.48,315.90 369.58,314.70 369.68,313.97 369.78,314.05 369.88,318.14 369.98,325.20 370.08,331.30 370.18,333.15 370.28,332.83 370.38,332.14 370.48,331.25 370.58,330.44 370.68,329.92 370.78,329.74 370.88,328.67 370.99,326.63 371.09,324.20 371.19,322.07 371.29,320.84 371.39,320.84 371.49,322.02 371.59,324.02 371.69,326.28 371.79,328.16 371.89,329.13 371.99,328.62 372.09,325.92 372.19,321.74 372.29,317.25 372.39,313.74 372.49,312.19 372.59,312.60 372.70,314.17 372.80,316.64 372.90,319.63 373.00,322.69 373.10,325.34 373.20,327.19 373.30,327.95 373.40,328.07 373.50,328.45 373.60,329.05 373.70,329.77 373.80,330.51 373.90,331.14 374.00,331.58 374.10,331.76 374.20,331.37 374.30,330.06 374.40,328.02 374.51,325.57 374.61,323.08 374.71,320.92 374.81,319.44 374.91,318.85 375.01,318.61 375.11,317.82 375.21,316.60 375.31,315.13 375.41,313.65 375.51,312.37 375.61,311.50 375.71,311.16 375.81,313.02 375.91,318.48 376.01,325.27 376.11,330.58 376.22,332.24 376.32,332.09 376.42,331.73 376.52,331.25 376.62,330.73 376.72,330.29 376.82,330.03 376.92,329.91 377.02,328.93 377.12,326.99 377.22,324.51 377.32,322.01 377.42,320.00 377.52,318.93 377.62,319.01 377.72,320.31 377.82,322.54 377.92,325.25 378.03,327.86 378.13,329.82 378.23,330.72 378.33,330.07 378.43,327.38 378.53,323.18 378.63,318.36 378.73,313.92 378.83,310.82 378.93,309.69 379.03,310.19 379.13,311.62 379.23,313.77 379.33,316.30 379.43,318.84 379.53,320.98 379.63,322.41 379.74,322.91 379.84,323.21 379.94,324.07 380.04,325.34 380.14,326.84 380.24,328.34 380.34,329.60 380.44,330.44 380.54,330.72 380.64,330.20 380.74,328.77 380.84,326.65 380.94,324.17 381.04,321.70 381.14,319.62 381.24,318.26 381.34,317.80 381.44,317.42 381.55,316.39 381.65,314.87 381.75,313.09 381.85,311.33 381.95,309.85 382.05,308.88 382.15,308.57 382.25,309.12 382.35,310.56 382.45,312.68 382.55,315.15 382.65,317.59 382.75,319.63 382.85,320.96 382.95,321.38 383.05,321.80 383.15,322.90 383.25,324.49 383.36,326.34 383.46,328.17 383.56,329.69 383.66,330.67 383.76,330.97 383.86,330.26 383.96,328.46 384.06,325.86 384.16,322.85 384.26,319.88 384.36,317.42 384.46,315.84 384.56,315.37 384.66,314.95 384.76,313.93 384.86,312.45 384.96,310.74 385.07,309.07 385.17,307.68 385.27,306.79 385.37,306.55 385.47,307.38 385.57,309.39 385.67,312.28 385.77,315.60 385.87,318.85 385.97,321.53 386.07,323.23 386.17,323.72 386.27,324.05 386.37,324.85 386.47,325.99 386.57,327.31 386.67,328.59 386.77,329.64 386.88,330.30 386.98,330.48 387.08,330.28 387.18,329.80 387.28,329.12 387.38,328.34 387.48,327.58 387.58,326.96 387.68,326.57 387.78,326.44 387.88,325.34 387.98,322.78 388.08,319.16 388.18,315.04 388.28,311.04 388.38,307.77 388.48,305.74 388.59,305.25 388.69,306.16 388.79,308.23 388.89,311.15 388.99,314.46 389.09,317.67 389.19,320.27 389.29,321.88 389.39,322.29 389.49,322.64 389.59,323.43 389.69,324.54 389.79,325.79 389.89,327.00 389.99,327.98 390.09,328.57 390.19,328.69 390.29,328.21 390.40,327.15 390.50,325.67 390.60,324.02 390.70,322.42 390.80,321.14 390.90,320.37 391.00,320.14 391.10,319.05 391.20,316.72 391.30,313.49 391.40,309.87 391.50,306.41 391.60,303.64 391.70,301.98 391.80,301.67 391.90,302.36 392.00,303.82 392.11,305.80 392.21,307.97 392.31,309.99 392.41,311.51 392.51,312.30 392.61,312.62 392.71,314.10 392.81,316.70 392.91,319.98 393.01,323.41 393.11,326.42 393.21,328.52 393.31,329.36 393.41,329.12 393.51,328.27 393.61,326.96 393.71,325.40 393.81,323.86 393.92,322.58 394.02,321.77 394.12,321.53 394.22,320.21 394.32,317.19 394.42,312.96 394.52,308.21 394.62,303.74 394.72,300.26 394.82,298.35 394.92,298.94 395.02,305.40 395.12,315.54 395.22,324.84 395.32,329.18 395.42,329.00 395.52,328.17 395.63,326.93 395.73,325.57 395.83,324.39 395.93,323.66 396.03,323.38 396.13,321.51 396.23,317.75 396.33,312.97 396.43,308.24 396.53,304.63 396.63,302.95 396.73,303.54 396.83,306.16 396.93,310.22 397.03,314.79 397.13,318.85 397.23,321.48 397.33,322.06 397.44,319.71 397.54,314.64 397.64,307.98 397.74,301.24 397.84,295.95 397.94,293.30 398.04,293.32 398.14,294.30 398.24,295.94 398.34,297.98 398.44,300.08 398.54,301.90 398.64,303.13 398.74,303.58 398.84,304.35 398.94,306.61 399.04,309.99 399.15,313.94 399.25,317.81 399.35,320.96 399.45,322.88 399.55,323.27 399.65,322.33 399.75,320.34 399.85,317.62 399.95,314.61 400.05,311.81 400.15,309.67 400.25,308.56 400.35,308.17 400.45,306.46 400.55,303.42 400.65,299.56 400.75,295.52 400.85,291.95 400.96,289.44 401.06,288.40 401.16,290.78 401.26,298.35 401.36,307.82 401.46,314.97 401.56,316.80 401.66,316.16 401.76,314.80 401.86,313.01 401.96,311.21 402.06,309.80 402.16,309.10 402.26,308.62 402.36,306.52 402.46,303.13 402.56,299.23 402.66,295.68 402.77,293.28 402.87,292.59 402.97,293.83 403.07,296.78 403.17,300.77 403.27,304.91 403.37,308.27 403.47,310.08 403.57,309.70 403.67,306.14 403.77,300.06 403.87,292.83 403.97,286.08 404.07,281.33 404.17,279.64 404.27,283.42 404.37,293.04 404.48,304.58 404.58,313.34 404.68,315.86 404.78,315.17 404.88,313.61 404.98,311.48 405.08,309.24 405.18,307.34 405.28,306.18 405.38,305.85 405.48,304.30 405.58,301.19 405.68,297.16 405.78,293.03 405.88,289.67 405.98,287.77 406.08,287.77 406.18,290.05 406.29,294.20 406.39,299.37 406.49,304.49 406.59,308.50 406.69,310.57 406.79,310.00 406.89,305.81 406.99,298.76 407.09,290.31 407.19,282.20 407.29,276.11 407.39,273.30 407.49,275.67 407.59,285.22 407.69,298.18 407.79,309.26 407.89,313.97 408.00,313.49 408.10,311.94 408.20,309.67 408.30,307.13 408.40,304.86 408.50,303.33 408.60,302.83 408.70,301.31 408.80,297.49 408.90,292.15 409.00,286.39 409.10,281.40 409.20,278.22 409.30,277.51 409.40,279.62 409.50,284.22 409.60,290.35 409.70,296.75 409.81,302.09 409.91,305.28 410.01,305.63 410.11,302.89 410.21,297.58 410.31,290.78 410.41,283.91 410.51,278.38 410.61,275.34 410.71,276.04 410.81,283.45 410.91,295.09 411.01,306.20 411.11,312.27 411.21,312.34 411.31,310.77 411.41,308.21 411.52,305.20 411.62,302.35 411.72,300.25 411.82,299.34 411.92,298.57 412.02,295.86 412.12,291.73 412.22,287.02 412.32,282.70 412.42,279.68 412.52,278.57 412.62,279.88 412.72,283.64 412.82,289.08 412.92,295.06 413.02,300.36 413.12,303.89 413.22,304.89 413.33,302.54 413.43,296.93 413.53,289.22 413.63,281.00 413.73,273.97 413.83,269.58 413.93,268.94 414.03,275.63 414.13,288.33 414.23,301.96 414.33,311.09 414.43,312.66 414.53,311.59 414.63,309.55 414.73,306.93 414.83,304.27 414.93,302.12 415.04,300.90 415.14,300.50 415.24,298.57 415.34,295.03 415.44,290.62 415.54,286.21 415.64,282.71 415.74,280.81 415.84,281.00 415.94,283.61 416.04,288.16 416.14,293.74 416.24,299.21 416.34,303.47 416.44,305.66 416.54,304.94 416.64,300.05 416.74,291.85 416.85,282.01 416.95,272.51 417.05,265.28 417.15,261.79 417.25,264.27 417.35,275.85 417.45,292.18 417.55,306.71 417.65,313.66 417.75,313.31 417.85,311.41 417.95,308.49 418.05,305.13 418.15,302.03 418.25,299.80 418.35,298.90 418.45,297.84 418.56,294.46 418.66,289.40 418.76,283.71 418.86,278.53 418.96,274.90 419.06,273.58 419.16,275.17 419.26,279.73 419.36,286.34 419.46,293.66 419.56,300.21 419.66,304.66 419.76,306.10 419.86,303.37 419.96,296.32 420.06,286.37 420.16,275.54 420.26,266.02 420.37,259.74 420.47,258.04 420.57,264.97 420.67,280.03 420.77,297.21 420.87,309.65 420.97,312.72 421.07,312.43 421.17,311.80 421.27,310.96 421.37,310.08 421.47,309.35 421.57,308.90 421.67,308.61 421.77,305.63 421.87,299.67 421.97,291.93 422.07,283.99 422.18,277.44 422.28,273.62 422.38,273.19 422.48,275.25 422.58,279.18 422.68,284.16 422.78,289.19 422.88,293.26 422.98,295.53 423.08,295.32 423.18,291.20 423.28,283.77 423.38,274.52 423.48,265.32 423.58,258.05 423.68,254.18 423.78,255.66 423.89,267.05 423.99,284.48 424.09,300.98 424.19,309.96 424.29,310.11 424.39,308.01 424.49,304.59 424.59,300.53 424.69,296.66 424.79,293.76 424.89,292.41 424.99,291.38 425.09,287.34 425.19,280.98 425.29,273.57 425.39,266.62 425.49,261.54 425.59,259.35 425.70,260.96 425.80,266.87 425.90,275.89 426.00,286.20 426.10,295.71 426.20,302.50 426.30,305.18 426.40,302.39 426.50,293.58 426.60,280.54 426.70,265.89 426.80,252.61 426.90,243.39 427.00,240.09 427.10,247.38 427.20,265.91 427.30,287.20 427.41,301.50 427.51,303.62 427.61,302.18 427.71,299.55 427.81,296.35 427.91,293.32 428.01,291.17 428.11,290.39 428.21,287.82 428.31,280.72 428.41,270.75 428.51,260.22 428.61,251.58 428.71,246.85 428.81,247.20 428.91,252.94 429.01,262.78 429.11,274.42 429.22,285.16 429.32,292.50 429.42,294.73 429.52,291.26 429.62,282.86 429.72,271.47 429.82,259.76 429.92,250.44 430.02,245.69 430.12,248.19 430.22,261.79 430.32,280.71 430.42,296.27 430.52,301.42 430.62,300.36 430.72,297.81 430.82,294.34 430.93,290.78 431.03,287.95 431.13,286.50 431.23,285.74 431.33,282.43 431.43,277.06 431.53,270.88 431.63,265.33 431.73,261.70 431.83,260.82 431.93,262.70 432.03,266.78 432.13,272.11 432.23,277.47 432.33,281.59 432.43,283.53 432.53,282.32 432.63,277.10 432.74,269.03 432.84,259.99 432.94,252.08 433.04,247.15 433.14,246.87 433.24,258.18 433.34,277.92 433.44,296.37 433.54,304.44 433.64,303.88 433.74,302.09 433.84,299.55 433.94,296.90 434.04,294.80 434.14,293.77 434.24,292.40 434.34,286.68 434.45,277.79 434.55,267.98 434.65,259.69 434.75,255.02 434.85,255.05 434.95,259.41 435.05,266.93 435.15,275.74 435.25,283.63 435.35,288.61 435.45,289.39 435.55,285.10 435.65,276.60 435.75,266.01 435.85,255.99 435.95,249.05 436.05,246.99 436.15,255.84 436.26,275.02 436.36,295.06 436.46,306.08 436.56,305.97 436.66,303.07 436.76,298.58 436.86,293.62 436.96,289.43 437.06,287.08 437.16,286.22 437.26,282.13 437.36,275.10 437.46,266.88 437.56,259.55 437.66,254.95 437.76,254.32 437.86,259.14 437.97,268.61 438.07,280.37 438.17,291.45 438.27,299.07 438.37,301.32 438.47,297.04 438.57,286.94 438.67,273.55 438.77,260.24 438.87,250.36 438.97,246.37 439.07,254.76 439.17,277.40 439.27,299.93 439.37,308.11 439.47,307.56 439.57,306.25 439.67,304.62 439.78,303.20 439.88,302.44 439.98,300.54 440.08,291.57 440.18,277.96 440.28,264.14 440.38,254.62 440.48,252.45 440.58,257.07 440.68,266.44 440.78,277.50 440.88,286.65 440.98,290.90 441.08,287.44 441.18,274.71 441.28,256.78 441.38,239.50 441.49,228.50 441.59,228.01 441.69,243.47 441.79,269.12 441.89,292.98 441.99,303.93 442.09,303.25 442.19,300.65 442.29,296.86 442.39,292.76 442.49,289.34 442.59,287.40 442.69,286.63 442.79,282.68 442.89,275.74 442.99,267.46 443.09,259.79 443.19,254.57 443.30,253.03 443.40,256.19 443.50,263.71 443.60,273.80 443.70,284.08 443.80,292.10 443.90,295.95 444.00,292.94 444.10,279.22 444.20,257.83 444.30,233.84 444.40,212.94 444.50,200.09 444.60,199.19 444.70,219.35 444.80,253.96 444.90,286.88 445.00,302.74 445.11,301.99 445.21,298.26 445.31,292.72 445.41,286.68 445.51,281.57 445.61,278.61 445.71,277.50 445.81,271.68 445.91,261.17 446.01,248.46 446.11,236.58 446.21,228.34 446.31,225.71 446.41,230.00 446.51,240.73 446.61,255.35 446.71,270.40 446.82,282.29 446.92,288.21 447.02,285.29 447.12,269.95 447.22,245.54 447.32,217.86 447.42,193.46 447.52,178.15 447.62,176.31 447.72,198.82 447.82,240.13 447.92,283.23 448.02,310.38 448.12,313.71 448.22,310.87 448.32,305.79 448.42,299.52 448.52,293.37 448.63,288.63 448.73,286.28 448.83,285.33 448.93,281.48 449.03,275.20 449.13,267.81 449.23,260.86 449.33,255.79 449.43,253.66 449.53,254.64 449.63,258.08 449.73,263.25 449.83,269.07 449.93,274.33 450.03,277.93 450.13,279.10 450.23,270.79 450.34,249.22 450.44,218.90 450.54,186.14 450.64,157.80 450.74,139.78 450.84,136.53 450.94,163.42 451.04,215.92 451.14,272.45 451.24,309.77 451.34,315.78 451.44,313.42 451.54,309.00 451.64,303.44 451.74,297.90 451.84,293.54 451.94,291.26 452.04,290.29 452.15,285.91 452.25,278.51 452.35,269.63 452.45,261.13 452.55,254.77 452.65,251.88 452.75,253.46 452.85,260.03 452.95,270.23 453.05,281.94 453.15,292.72 453.25,300.33 453.35,303.17 453.45,294.70 453.55,270.00 453.65,234.21 453.75,194.79 453.86,159.96 453.96,136.98 454.06,130.87 454.16,154.44 454.26,204.84 454.36,261.36 454.46,300.77 454.56,308.96 454.66,308.31 454.76,307.01 454.86,305.33 454.96,303.62 455.06,302.25 455.16,301.49 455.26,300.64 455.36,295.14 455.46,285.39 455.56,273.43 455.67,261.73 455.77,252.75 455.87,248.36 455.97,249.43 456.07,255.61 456.17,265.60 456.27,277.33 456.37,288.35 456.47,296.35 456.57,299.68 456.67,293.18 456.77,271.26 456.87,238.43 456.97,201.51 457.07,168.21 457.17,145.47 457.27,138.07 457.38,157.21 457.48,202.78 457.58,256.07 457.68,295.15 457.78,304.96 457.88,302.97 457.98,298.72 458.08,293.09 458.18,287.26 458.28,282.45 458.38,279.65 458.48,278.85 458.58,275.38 458.68,268.89 458.78,260.73 458.88,252.59 458.98,246.19 459.08,242.85 459.19,243.62 459.29,249.73 459.39,260.04 459.49,272.41 459.59,284.26 459.69,293.11 459.79,297.12 459.89,293.26 459.99,277.70 460.09,253.52 460.19,225.77 460.29,200.24 460.39,182.24 460.49,175.53 460.59,188.98 460.69,224.92 460.79,267.38 460.90,297.48 461.00,303.58 461.10,302.74 461.20,301.10 461.30,299.02 461.40,296.98 461.50,295.43 461.60,294.74 461.70,291.82 461.80,280.81 461.90,264.00 462.00,245.18 462.10,228.60 462.20,218.02 462.30,215.81 462.40,222.48 462.50,236.53 462.60,254.77 462.71,273.09 462.81,287.35 462.91,294.33 463.01,292.75 463.11,283.77 463.21,269.47 463.31,253.09 463.41,238.31 463.51,228.49 463.61,225.96 463.71,237.11 463.81,260.31 463.91,285.26 464.01,300.86 464.11,302.31 464.21,299.47 464.31,294.54 464.41,288.63 464.52,283.08 464.62,279.15 464.72,277.71 464.82,276.13 464.92,271.69 465.02,265.39 465.12,258.66 465.22,253.01 465.32,249.73 465.42,249.75 465.52,254.52 465.62,263.26 465.72,274.01 465.82,284.34 465.92,291.90 466.02,295.01 466.12,292.48 466.23,284.24 466.33,272.13 466.43,258.89 466.53,247.51 466.63,240.56 466.73,240.13 466.83,251.97 466.93,272.57 467.03,292.78 467.13,303.61 467.23,303.57 467.33,300.96 467.43,296.86 467.53,292.18 467.63,287.98 467.73,285.22 467.83,284.41 467.93,282.02 468.04,276.64 468.14,269.50 468.24,262.21 468.34,256.40 468.44,253.40 468.54,254.19 468.64,259.72 468.74,268.83 468.84,279.48 468.94,289.25 469.04,295.94 469.14,298.03 469.24,293.72 469.34,283.02 469.44,268.36 469.54,253.04 469.64,240.52 469.75,233.64 469.85,235.23 469.95,250.71 470.05,274.14 470.15,295.11 470.25,304.30 470.35,303.98 470.45,302.81 470.55,301.10 470.65,299.23 470.75,297.64 470.85,296.67 470.95,296.12 471.05,291.53 471.15,282.65 471.25,271.51 471.35,260.60 471.45,252.40 471.56,248.76 471.66,250.08 471.76,255.29 471.86,263.20 471.96,272.01 472.06,279.75 472.16,284.66 472.26,285.53 472.36,280.33 472.46,269.50 472.56,255.50 472.66,241.48 472.76,230.61 472.86,225.34 472.96,229.30 473.06,247.17 473.16,271.91 473.27,293.25 473.37,302.35 473.47,301.22 473.57,297.61 473.67,292.32 473.77,286.46 473.87,281.26 473.97,277.82 474.07,276.78 474.17,273.80 474.27,266.81 474.37,257.27 474.47,247.20 474.57,238.72 474.67,233.60 474.77,232.95 474.87,236.99 474.97,244.91 475.08,255.04 475.18,265.25 475.28,273.39 475.38,277.74 475.48,277.13 475.58,270.54 475.68,259.21 475.78,245.53 475.88,232.37 475.98,222.51 476.08,218.01 476.18,223.13 476.28,242.71 476.38,269.19 476.48,291.98 476.58,301.98 476.68,301.55 476.79,299.86 476.89,297.33 476.99,294.49 477.09,291.89 477.19,290.08 477.29,289.42 477.39,287.25 477.49,281.03 477.59,272.01 477.69,262.01 477.79,253.06 477.89,246.98 477.99,244.99 478.09,246.63 478.19,250.89 478.29,256.90 478.39,263.44 478.49,269.19 478.60,272.98 478.70,274.04 478.80,271.49 478.90,265.45 479.00,257.14 479.10,248.25 479.20,240.57 479.30,235.67 479.40,234.79 479.50,245.20 479.60,266.07 479.70,289.08 479.80,305.03 479.90,308.24 480.00,306.08 480.10,301.76 480.20,296.14 480.31,290.37 480.41,285.62 480.51,282.85 480.61,282.03 480.71,278.35 480.81,271.37 480.91,262.51 481.01,253.55 481.11,246.32 481.21,242.27 481.31,242.24 481.41,246.28 481.51,253.59 481.61,262.68 481.71,271.71 481.81,278.86 481.91,282.67 482.01,282.33 482.12,277.66 482.22,269.60 482.32,259.77 482.42,250.16 482.52,242.73 482.62,238.96 482.72,241.57 482.82,255.90 482.92,276.80 483.02,295.92 483.12,305.62 483.22,305.83 483.32,305.10 483.42,303.95 483.52,302.61 483.62,301.35 483.72,300.43 483.82,300.04 483.93,298.07 484.03,291.08 484.13,280.41 484.23,268.22 484.33,256.98 484.43,248.96 484.53,245.80 484.63,247.63 484.73,253.44 484.83,262.05 484.93,271.70 485.03,280.45 485.13,286.53 485.23,288.69 485.33,286.22 485.43,279.30 485.53,269.34 485.64,258.36 485.74,248.58 485.84,241.98 485.94,239.93 486.04,247.10 486.14,263.80 486.24,283.38 486.34,298.00 486.44,302.05 486.54,301.32 486.64,299.66 486.74,297.43 486.84,295.07 486.94,293.06 487.04,291.81 487.14,291.40 487.24,288.92 487.34,283.73 487.45,276.87 487.55,269.74 487.65,263.78 487.75,260.20 487.85,259.64 487.95,261.36 488.05,264.74 488.15,269.11 488.25,273.58 488.35,277.24 488.45,279.35 488.55,279.32 488.65,275.85 488.75,269.36 488.85,261.16 488.95,252.91 489.05,246.28 489.16,242.62 489.26,243.80 489.36,255.49 489.46,274.06 489.56,292.08 489.66,302.37 489.76,302.81 489.86,300.44 489.96,296.45 490.06,291.66 490.16,287.03 490.26,283.50 490.36,281.79 490.46,281.22 490.56,279.01 490.66,275.43 490.76,271.21 490.86,267.21 490.97,264.22 491.07,262.87 491.17,263.58 491.27,266.55 491.37,271.19 491.47,276.57 491.57,281.59 491.67,285.23 491.77,286.77 491.87,285.15 491.97,279.51 492.07,270.96 492.17,261.25 492.27,252.33 492.37,246.02 492.47,243.59 492.57,249.44 492.68,266.07 492.78,286.84 492.88,303.46 492.98,309.31 493.08,308.75 493.18,307.30 493.28,305.26 493.38,303.04 493.48,301.08 493.58,299.79 493.68,299.39 493.78,297.41 493.88,292.72 493.98,286.27 494.08,279.37 494.18,273.40 494.28,269.59 494.38,268.68 494.49,270.25 494.59,273.71 494.69,278.36 494.79,283.25 494.89,287.40 494.99,289.96 495.09,290.26 495.19,285.83 495.29,276.71 495.39,264.74 495.49,252.35 495.59,242.05 495.69,235.92 495.79,235.84 495.89,247.93 495.99,269.08 496.09,290.86 496.20,304.55 496.30,306.33 496.40,305.35 496.50,303.58 496.60,301.38 496.70,299.20 496.80,297.47 496.90,296.55 497.00,295.68 497.10,290.84 497.20,282.47 497.30,272.28 497.40,262.33 497.50,254.63 497.60,250.75 497.70,251.31 497.80,255.62 497.90,262.78 498.01,271.32 498.11,279.52 498.21,285.71 498.31,288.65 498.41,287.03 498.51,279.39 498.61,267.20 498.71,252.93 498.81,239.46 498.91,229.53 499.01,225.15 499.11,230.74 499.21,250.52 499.31,275.88 499.41,295.55 499.51,301.08 499.61,299.80 499.72,296.95 499.82,293.18 499.92,289.33 500.02,286.28 500.12,284.72 500.22,283.36 500.32,276.88 500.42,266.25 500.52,253.87 500.62,242.53 500.72,234.79 500.82,232.40 500.92,236.11 501.02,245.23 501.12,257.70 501.22,270.70 501.32,281.31 501.42,287.12 501.53,286.65 501.63,279.12 501.73,266.12 501.83,250.58 501.93,236.00 502.03,225.68 502.13,221.95 502.23,231.01 502.33,254.25 502.43,281.34 502.53,300.25 502.63,303.66 502.73,300.82 502.83,295.36 502.93,288.51 503.03,281.83 503.13,276.81 503.23,274.60 503.34,273.25 503.44,268.51 503.54,261.34 503.64,253.36 503.74,246.38 503.84,241.96 503.94,241.11 504.04,244.06 504.14,250.17 504.24,258.06 504.34,265.94 504.44,272.04 504.54,274.98 504.64,273.39 504.74,265.79 504.84,253.80 504.94,240.11 505.05,227.84 505.15,219.73 505.25,217.81 505.35,229.39 505.45,253.56 505.55,280.65 505.65,299.86 505.75,304.14 505.85,301.67 505.95,296.55 506.05,289.84 506.15,282.88 506.25,277.08 506.35,273.63 506.45,272.82 506.55,270.77 506.65,266.75 506.75,261.59 506.86,256.33 506.96,252.03 507.06,249.57 507.16,249.50 507.26,252.31 507.36,257.53 507.46,264.11 507.56,270.70 507.66,275.98 507.76,278.87 507.86,278.26 507.96,271.34 508.06,259.06 508.16,243.90 508.26,228.95 508.36,217.21 508.46,211.07 508.57,213.57 508.67,230.71 508.77,256.73 508.87,281.64 508.97,295.89 509.07,296.79 509.17,294.52 509.27,290.65 509.37,285.95 509.47,281.31 509.57,277.65 509.67,275.67 509.77,274.68 509.87,269.41 509.97,260.12 510.07,248.62 510.17,237.12 510.27,227.88 510.38,222.68 510.48,222.58 510.58,227.88 510.68,237.59 510.78,249.83 510.88,262.22 510.98,272.36 511.08,278.27 511.18,278.83 511.28,274.10 511.38,265.04 511.48,253.41 511.58,241.47 511.68,231.53 511.78,225.54 511.88,225.06 511.98,235.01 512.09,253.15 512.19,272.53 512.29,285.71 512.39,288.29 512.49,286.89 512.59,284.10 512.69,280.45 512.79,276.67 512.89,273.48 512.99,271.50 513.09,270.90 513.19,267.89 513.29,261.58 513.39,253.18 513.49,244.33 513.59,236.75 513.69,231.92 513.79,230.76 513.90,233.49 514.00,239.55 514.10,247.78 514.20,256.58 514.30,264.23 514.40,269.25 514.50,270.64 514.60,267.25 514.70,259.17 514.80,247.98 514.90,235.86 515.00,225.15 515.10,217.94 515.20,215.65 515.30,223.22 515.40,241.25 515.50,262.81 515.61,279.65 515.71,285.34 515.81,284.35 515.91,281.83 516.01,278.27 516.11,274.36 516.21,270.87 516.31,268.47 516.41,267.63 516.51,265.40 516.61,259.23 516.71,250.33 516.81,240.42 516.91,231.43 517.01,225.10 517.11,222.66 517.21,224.91 517.31,231.80 517.42,241.99 517.52,253.50 517.62,264.10 517.72,271.72 517.82,274.90 517.92,271.65 518.02,260.46 518.12,243.48 518.22,224.01 518.32,205.82 518.42,192.45 518.52,186.50 518.62,192.31 518.72,213.92 518.82,243.25 518.92,269.05 519.02,281.43 519.13,281.31 519.23,279.66 519.33,277.08 519.43,274.09 519.53,271.26 519.63,269.15 519.73,268.16 519.83,266.16 519.93,257.81 520.03,244.46 520.13,228.70 520.23,213.59 520.33,202.07 520.43,196.38 520.53,197.41 520.63,204.32 520.73,215.71 520.83,229.37 520.94,242.65 521.04,252.97 521.14,258.32 521.24,257.04 521.34,246.90 521.44,229.62 521.54,208.54 521.64,187.77 521.74,171.34 521.84,162.44 521.94,164.74 522.04,186.80 522.14,221.59 522.24,255.78 522.34,276.25 522.44,278.22 522.54,275.62 522.65,271.05 522.75,265.40 522.85,259.76 522.95,255.24 523.05,252.70 523.15,251.64 523.25,245.74 523.35,234.96 523.45,221.40 523.55,207.68 523.65,196.48 523.75,189.96 523.85,189.39 523.95,194.74 524.05,204.93 524.15,218.00 524.25,231.40 524.35,242.53 524.46,249.22 524.56,249.89 524.66,240.85 524.76,222.77 524.86,199.17 524.96,174.64 525.06,153.93 525.16,141.08 525.26,139.22 525.36,160.08 525.46,199.72 525.56,242.00 525.66,269.72 525.76,274.16 525.86,273.08 525.96,271.05 526.06,268.51 526.16,265.96 526.27,263.94 526.37,262.87 526.47,261.34 526.57,252.50 526.67,237.32 526.77,218.93 526.87,201.11 526.97,187.56 527.07,181.06 527.17,182.41 527.27,189.88 527.37,201.85 527.47,215.85 527.57,228.98 527.67,238.55 527.77,242.57 527.87,238.42 527.98,224.07 528.08,202.41 528.18,177.94 528.28,155.69 528.38,140.26 528.48,134.83 528.58,149.28 528.68,186.08 528.78,230.26 528.88,263.81 528.98,273.34 529.08,265.89 529.18,250.71 529.28,234.69 529.38,225.12 529.48,221.14 529.58,204.42 529.68,180.37 529.79,159.93 529.89,152.40 529.99,163.45 530.09,190.00 530.19,219.98 530.29,239.76 530.39,240.99 530.49,227.33 530.59,205.78 530.69,186.15 530.79,177.36 530.89,184.95 530.99,207.64 531.09,235.14 531.19,254.94 531.29,257.03 531.39,228.10 531.50,177.41 531.60,128.01 531.70,102.37 531.80,112.53 531.90,155.00 532.00,211.32 532.10,256.97 532.20,272.18 532.30,266.43 532.40,253.79 532.50,240.39 532.60,232.76 532.70,225.59 532.80,195.87 532.90,156.10 533.00,125.63 533.10,119.39 533.20,142.75 533.31,185.24 533.41,226.22 533.51,245.77 533.61,235.65 533.71,202.81 533.81,163.26 533.91,136.21 534.01,134.31 534.11,154.88 534.21,187.16 534.31,215.48 534.41,226.05 534.51,208.32 534.61,166.24 534.71,120.25 534.81,92.71 534.91,97.95 535.02,137.27 535.12,193.89 535.22,243.14 535.32,263.58 535.42,259.23 535.52,247.43 535.62,233.94 535.72,225.31 535.82,221.66 535.92,204.93 536.02,180.39 536.12,159.97 536.22,153.61 536.32,165.18 536.42,189.57 536.52,214.92 536.62,228.90 536.72,221.90 536.83,189.98 536.93,148.20 537.03,116.89 537.13,111.29 537.23,134.60 537.33,175.65 537.43,214.49 537.53,232.24 537.63,217.11 537.73,171.86 537.83,118.46 537.93,82.85 538.03,82.72 538.13,120.55 538.23,178.90 538.33,230.19 538.43,250.21 538.54,248.58 538.64,244.59 538.74,240.36 538.84,238.11 538.94,229.11 539.04,196.84 539.14,157.49 539.24,131.80 539.34,133.04 539.44,159.33 539.54,196.65 539.64,225.32 539.74,229.94 539.84,204.10 539.94,160.08 540.04,121.09 540.14,107.63 540.24,121.54 540.35,151.73 540.45,182.29 540.55,197.13 540.65,186.10 540.75,151.26 540.85,110.90 540.95,86.29 541.05,91.79 541.15,129.85 541.25,182.94 541.35,225.97 541.45,238.95 541.55,232.32 541.65,219.03 541.75,206.08 541.85,200.29 541.95,192.97 542.06,172.80 542.16,150.37 542.26,137.48 542.36,140.56 542.46,156.88 542.56,177.78 542.66,192.24 542.76,192.75 542.86,179.83 542.96,160.43 543.06,144.78 543.16,141.41 543.26,157.81 543.36,187.78 543.46,215.52 543.56,226.39 543.66,204.32 543.76,151.30 543.87,95.28 543.97,65.81 544.07,76.00 544.17,116.82 544.27,170.94 544.37,215.59 544.47,232.04 544.57,230.09 544.67,225.40 544.77,220.17 544.87,216.84 544.97,212.65 545.07,188.15 545.17,151.69 545.27,120.38 545.37,108.89 545.47,117.65 545.57,138.38 545.68,161.35 545.78,175.78 545.88,173.89 545.98,151.86 546.08,119.36 546.18,91.65 546.28,81.73 546.38,95.16 546.48,126.36 546.58,160.70 546.68,182.05 546.78,179.60 546.88,150.83 546.98,108.78 547.08,73.18 547.18,60.74 547.28,80.30 547.39,125.89 547.49,178.35 547.59,215.63 547.69,223.65 547.79,221.24 547.89,216.96 547.99,212.84 548.09,210.79 548.19,203.25 548.29,177.79 548.39,145.93 548.49,122.64 548.59,118.46 548.69,130.65 548.79,151.96 548.89,172.40 548.99,182.37 549.09,177.05 549.20,158.69 549.30,135.90 549.40,119.37 549.50,116.83 549.60,129.16 549.70,150.48 549.80,170.78 549.90,180.55 550.00,169.25 550.10,132.03 550.20,86.17 550.30,53.18 550.40,48.91 550.50,79.59 550.60,133.52 550.70,188.02 550.80,220.17 550.91,221.89 551.01,214.25 551.11,203.32 551.21,194.21 551.31,191.00 551.41,173.13 551.51,133.89 551.61,91.69 551.71,66.33 551.81,69.70 551.91,100.16 552.01,143.41 552.11,179.16 552.21,190.63 552.31,172.44 552.41,133.13 552.51,91.14 552.61,66.17 552.72,70.55 552.82,104.43 552.92,152.13 553.02,191.28 553.12,203.44 553.22,179.57 553.32,128.78 553.42,74.90 553.52,43.21 553.62,49.15 553.72,92.43 553.82,155.04 553.92,210.66 554.02,235.90 554.12,233.21 554.22,224.01 554.32,212.86 554.43,205.00 554.53,201.67 554.63,181.41 554.73,147.62 554.83,116.16 554.93,101.80 555.03,112.41 555.13,144.69 555.23,183.50 555.33,210.64 555.43,213.27 555.53,189.35 555.63,149.90 555.73,113.42 555.83,97.03 555.93,107.94 556.03,140.33 556.13,179.00 556.24,205.81 556.34,207.12 556.44,173.66 556.54,119.02 556.64,68.84 556.74,46.68 556.84,64.33 556.94,116.29 557.04,180.73 557.14,230.55 557.24,245.32 557.34,242.50 557.44,236.68 557.54,230.62 557.64,227.14 557.74,218.99 557.84,182.20 557.95,131.82 558.05,91.50 558.15,80.11 558.25,101.62 558.35,145.18 558.45,190.37 558.55,215.96 558.65,209.21 558.75,171.02 558.85,119.15 558.95,77.93 559.05,66.63 559.15,87.35 559.25,128.74 559.35,171.37 559.45,195.24 559.55,187.91 559.65,149.25 559.76,97.17 559.86,56.10 559.96,45.46 560.06,74.93 560.16,134.37 560.26,198.80 560.36,241.12 560.46,246.67 560.56,235.96 560.66,218.87 560.76,203.44 560.86,196.89 560.96,186.46 561.06,157.99 561.16,124.81 561.26,102.48 561.36,101.08 561.47,118.46 561.57,145.90 561.67,170.52 561.77,180.77 561.87,169.44 561.97,139.10 562.07,103.99 562.17,80.57 562.27,80.41 562.37,107.27 562.47,149.26 562.57,186.67 562.67,201.96 562.77,186.30 562.87,145.23 562.97,98.03 563.07,66.85 563.17,67.05 563.28,103.43 563.38,161.72 563.48,217.73 563.58,248.20 563.68,249.04 563.78,244.50 563.88,238.36 563.98,233.45 564.08,231.60 564.18,214.59 564.28,179.92 564.38,143.65 564.48,122.59 564.58,123.96 564.68,138.63 564.78,159.07 564.88,175.79 564.98,181.01 565.09,169.21 565.19,143.88 565.29,116.76 565.39,100.42 565.49,103.34 565.59,127.80 565.69,162.85 565.79,192.26 565.89,202.38 565.99,186.03 566.09,148.91 566.19,108.22 566.29,82.82 566.39,85.35 566.49,119.02 566.59,170.42 566.69,218.21 566.80,242.55 566.90,240.89 567.00,231.02 567.10,218.22 567.20,208.42 567.30,205.40 567.40,194.07 567.50,172.60 567.60,150.95 567.70,139.13 567.80,141.20 567.90,152.39 568.00,167.31 568.10,179.05 568.20,182.02 568.30,170.13 568.40,146.55 568.50,122.20 568.61,108.35 568.71,112.91 568.81,138.34 568.91,173.20 569.01,201.35 569.11,209.71 569.21,193.00 569.31,158.14 569.41,121.26 569.51,99.46 569.61,103.33 569.71,133.22 569.81,176.89 569.91,216.22 570.01,234.89 570.11,232.43 570.21,223.00 570.32,211.24 570.42,202.61 570.52,199.93 570.62,188.35 570.72,167.77 570.82,147.73 570.92,137.51 571.02,142.27 571.12,160.68 571.22,184.24 571.32,202.04 571.42,205.62 571.52,189.45 571.62,159.49 571.72,129.62 571.82,113.67 571.92,120.24 572.02,149.18 572.13,187.24 572.23,216.79 572.33,224.16 572.43,206.95 572.53,173.58 572.63,139.51 572.73,120.53 572.83,124.26 572.93,145.93"/>
<!-- axes -->
<g stroke="#222" stroke-width="1.3" fill="none">
<line x1="55.1" y1="30.3" x2="55.1" y2="356"/>
<line x1="54.5" y1="355.4" x2="588.3" y2="355.4"/>
</g>
<g stroke="#000" stroke-width="1">
<line x1="55" y1="346.4" x2="60" y2="346.4"/>
<line x1="55" y1="270.9" x2="60" y2="270.9"/>
<line x1="55" y1="195.45" x2="60" y2="195.45"/>
<line x1="55" y1="119.95" x2="60" y2="119.95"/>
<line x1="55" y1="44.5" x2="60" y2="44.5"/>
<line x1="70.1" y1="355.4" x2="70.1" y2="350.5"/>
<line x1="170.7" y1="355.4" x2="170.7" y2="350.5"/>
<line x1="271.3" y1="355.4" x2="271.3" y2="350.5"/>
<line x1="371.9" y1="355.4" x2="371.9" y2="350.5"/>
<line x1="472.5" y1="355.4" x2="472.5" y2="350.5"/>
<line x1="573.1" y1="355.4" x2="573.1" y2="350.5"/>
</g>
<!-- tick labels -->
<g font-size="12" text-anchor="end">
<text x="46.5" y="350.7" textLength="19" lengthAdjust="spacingAndGlyphs">0.0</text>
<text x="46.5" y="275.2" textLength="19" lengthAdjust="spacingAndGlyphs">0.5</text>
<text x="46.5" y="199.8" textLength="19" lengthAdjust="spacingAndGlyphs">1.0</text>
<text x="46.5" y="124.3" textLength="19" lengthAdjust="spacingAndGlyphs">1.5</text>
<text x="46.5" y="48.9" textLength="19" lengthAdjust="spacingAndGlyphs">2.0</text>
</g>
<g font-size="12" text-anchor="middle">
<text x="70.1" y="371.6">0</text>
<text x="170.7" y="371.6" textLength="30.6" lengthAdjust="spacingAndGlyphs">1000</text>
<text x="271.3" y="371.6" textLength="30.6" lengthAdjust="spacingAndGlyphs">2000</text>
<text x="371.9" y="371.6" textLength="30.6" lengthAdjust="spacingAndGlyphs">3000</text>
<text x="472.5" y="371.6" textLength="30.6" lengthAdjust="spacingAndGlyphs">4000</text>
<text x="573.1" y="371.6" textLength="30.6" lengthAdjust="spacingAndGlyphs">5000</text>
</g>
<!-- titles -->
<text x="321.5" y="18" font-size="21.4" text-anchor="middle" textLength="416.5" lengthAdjust="spacingAndGlyphs">Absolute Difference in States Over Time</text>
<text x="321.5" y="391.7" font-size="16" text-anchor="middle" textLength="40.1" lengthAdjust="spacingAndGlyphs">Time</text>
<text transform="translate(16,193) rotate(-90)" font-size="16" text-anchor="middle" textLength="83.9" lengthAdjust="spacingAndGlyphs">Difference</text>
<!-- legend -->
<rect x="72.6" y="41.5" width="168.7" height="25.7" fill="#fff" stroke="#000" stroke-width="1"/>
<line x1="77.8" y1="54.6" x2="115" y2="54.6" stroke="#0000ff" stroke-width="1.5"/>
<text x="118.6" y="59" font-size="12" textLength="117.4" lengthAdjust="spacingAndGlyphs">Difference in States</text>
</svg>
</body></html>
